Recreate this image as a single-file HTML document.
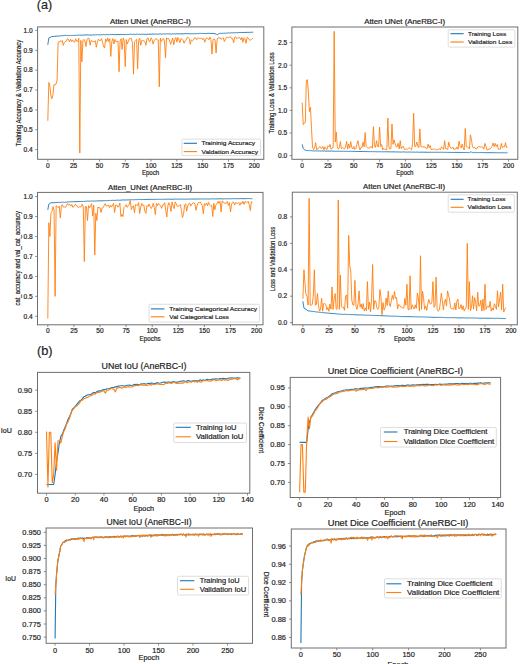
<!DOCTYPE html>
<html><head><meta charset="utf-8"><style>
html,body{margin:0;padding:0;background:#fff;width:520px;height:664px;overflow:hidden}
svg{display:block}
text{font-family:"Liberation Sans",sans-serif;stroke:#222;stroke-width:0.18px}
</style></head><body>
<svg width="520" height="664" viewBox="0 0 520 664">
<rect width="520" height="664" fill="#fff"/>
<text x="36.80" y="9.30" font-size="12.6" textLength="15.40" lengthAdjust="spacingAndGlyphs" fill="#222">(a)</text>
<text x="110.00" y="23.70" font-size="6.5" textLength="80.80" lengthAdjust="spacingAndGlyphs" fill="#222">Atten UNet (AneRBC-I)</text>
<text transform="translate(21.04,93.05) rotate(-90)" x="-53.25" y="0" font-size="6.8" textLength="106.50" lengthAdjust="spacingAndGlyphs" fill="#222">Training Accuracy &amp; Validation Accuracy</text>
<text x="141.90" y="175.00" font-size="6.4" textLength="17.30" lengthAdjust="spacingAndGlyphs" fill="#222">Epoch</text>
<line x1="35.30" y1="149.60" x2="37.60" y2="149.60" stroke="#6e6e6e" stroke-width="0.8"/>
<text x="23.54" y="151.90" font-size="6.4" textLength="9.16" lengthAdjust="spacingAndGlyphs" fill="#222">0.4</text>
<line x1="35.30" y1="129.73" x2="37.60" y2="129.73" stroke="#6e6e6e" stroke-width="0.8"/>
<text x="23.54" y="132.04" font-size="6.4" textLength="9.16" lengthAdjust="spacingAndGlyphs" fill="#222">0.5</text>
<line x1="35.30" y1="109.87" x2="37.60" y2="109.87" stroke="#6e6e6e" stroke-width="0.8"/>
<text x="23.54" y="112.17" font-size="6.4" textLength="9.16" lengthAdjust="spacingAndGlyphs" fill="#222">0.6</text>
<line x1="35.30" y1="90.00" x2="37.60" y2="90.00" stroke="#6e6e6e" stroke-width="0.8"/>
<text x="23.54" y="92.30" font-size="6.4" textLength="9.16" lengthAdjust="spacingAndGlyphs" fill="#222">0.7</text>
<line x1="35.30" y1="70.13" x2="37.60" y2="70.13" stroke="#6e6e6e" stroke-width="0.8"/>
<text x="23.54" y="72.44" font-size="6.4" textLength="9.16" lengthAdjust="spacingAndGlyphs" fill="#222">0.8</text>
<line x1="35.30" y1="50.27" x2="37.60" y2="50.27" stroke="#6e6e6e" stroke-width="0.8"/>
<text x="23.54" y="52.57" font-size="6.4" textLength="9.16" lengthAdjust="spacingAndGlyphs" fill="#222">0.9</text>
<line x1="35.30" y1="30.40" x2="37.60" y2="30.40" stroke="#6e6e6e" stroke-width="0.8"/>
<text x="23.54" y="32.70" font-size="6.4" textLength="9.16" lengthAdjust="spacingAndGlyphs" fill="#222">1.0</text>
<line x1="47.80" y1="159.30" x2="47.80" y2="161.60" stroke="#6e6e6e" stroke-width="0.8"/>
<text x="45.97" y="167.80" font-size="6.4" textLength="3.67" lengthAdjust="spacingAndGlyphs" fill="#222">0</text>
<line x1="73.61" y1="159.30" x2="73.61" y2="161.60" stroke="#6e6e6e" stroke-width="0.8"/>
<text x="69.95" y="167.80" font-size="6.4" textLength="7.33" lengthAdjust="spacingAndGlyphs" fill="#222">25</text>
<line x1="99.42" y1="159.30" x2="99.42" y2="161.60" stroke="#6e6e6e" stroke-width="0.8"/>
<text x="95.76" y="167.80" font-size="6.4" textLength="7.33" lengthAdjust="spacingAndGlyphs" fill="#222">50</text>
<line x1="125.24" y1="159.30" x2="125.24" y2="161.60" stroke="#6e6e6e" stroke-width="0.8"/>
<text x="121.57" y="167.80" font-size="6.4" textLength="7.33" lengthAdjust="spacingAndGlyphs" fill="#222">75</text>
<line x1="151.05" y1="159.30" x2="151.05" y2="161.60" stroke="#6e6e6e" stroke-width="0.8"/>
<text x="145.55" y="167.80" font-size="6.4" textLength="11.00" lengthAdjust="spacingAndGlyphs" fill="#222">100</text>
<line x1="176.86" y1="159.30" x2="176.86" y2="161.60" stroke="#6e6e6e" stroke-width="0.8"/>
<text x="171.36" y="167.80" font-size="6.4" textLength="11.00" lengthAdjust="spacingAndGlyphs" fill="#222">125</text>
<line x1="202.68" y1="159.30" x2="202.68" y2="161.60" stroke="#6e6e6e" stroke-width="0.8"/>
<text x="197.18" y="167.80" font-size="6.4" textLength="11.00" lengthAdjust="spacingAndGlyphs" fill="#222">150</text>
<line x1="228.49" y1="159.30" x2="228.49" y2="161.60" stroke="#6e6e6e" stroke-width="0.8"/>
<text x="222.99" y="167.80" font-size="6.4" textLength="11.00" lengthAdjust="spacingAndGlyphs" fill="#222">175</text>
<line x1="254.30" y1="159.30" x2="254.30" y2="161.60" stroke="#6e6e6e" stroke-width="0.8"/>
<text x="248.80" y="167.80" font-size="6.4" textLength="11.00" lengthAdjust="spacingAndGlyphs" fill="#222">200</text>
<polyline points="47.80,44.82 48.83,37.93 49.86,37.35 50.90,37.03 51.93,36.56 52.96,36.44 53.99,36.48 55.03,36.28 56.06,36.16 57.09,36.01 58.12,36.15 59.16,35.99 60.19,35.97 61.22,35.65 62.25,35.59 63.29,35.71 64.32,35.39 65.35,35.37 66.38,35.44 67.42,35.43 68.45,35.55 69.48,35.57 70.52,35.38 71.55,35.51 72.58,35.44 73.61,35.40 74.64,35.44 75.68,35.28 76.71,35.26 77.74,35.11 78.78,35.19 79.81,35.12 80.84,35.15 81.87,35.08 82.91,35.12 83.94,35.16 84.97,34.91 86.00,34.89 87.03,34.92 88.07,34.94 89.10,35.04 90.13,35.05 91.16,35.01 92.20,35.06 93.23,34.82 94.26,34.91 95.29,34.75 96.33,34.88 97.36,34.67 98.39,34.69 99.42,34.94 100.46,34.85 101.49,34.61 102.52,34.73 103.56,34.54 104.59,34.71 105.62,34.79 106.65,34.59 107.69,34.52 108.72,34.67 109.75,34.70 110.78,34.62 111.81,34.40 112.85,34.46 113.88,34.65 114.91,34.60 115.94,34.64 116.98,34.64 118.01,34.40 119.04,34.59 120.08,34.45 121.11,34.48 122.14,34.55 123.17,34.37 124.20,34.55 125.24,34.38 126.27,34.53 127.30,34.43 128.33,34.48 129.37,34.46 130.40,34.22 131.43,34.27 132.47,34.42 133.50,34.22 134.53,34.43 135.56,34.36 136.59,34.20 137.63,34.26 138.66,34.42 139.69,34.13 140.72,34.37 141.76,34.34 142.79,34.17 143.82,34.30 144.86,34.30 145.89,34.36 146.92,34.34 147.95,34.18 148.99,34.28 150.02,34.15 151.05,34.22 152.08,34.18 153.12,34.00 154.15,34.14 155.18,34.10 156.21,33.99 157.25,34.20 158.28,34.19 159.31,33.94 160.34,33.95 161.38,34.12 162.41,34.13 163.44,33.94 164.47,33.86 165.50,34.09 166.54,33.83 167.57,33.84 168.60,33.92 169.63,33.96 170.67,34.05 171.70,34.06 172.73,33.75 173.76,33.97 174.80,33.81 175.83,33.93 176.86,33.74 177.89,33.80 178.93,33.88 179.96,33.91 180.99,33.72 182.02,33.91 183.06,33.85 184.09,33.73 185.12,33.63 186.15,33.69 187.19,33.78 188.22,33.57 189.25,33.78 190.29,33.83 191.32,33.73 192.35,33.66 193.38,33.77 194.42,33.72 195.45,33.65 196.48,33.57 197.51,33.70 198.55,33.61 199.58,33.43 200.61,33.39 201.64,33.48 202.68,33.45 203.71,33.47 204.74,33.60 205.77,33.62 206.81,33.61 207.84,33.32 208.87,33.37 209.90,33.27 210.94,33.56 211.97,33.35 213.00,33.39 214.03,33.51 215.06,33.83 216.10,33.82 217.13,34.91 218.16,34.16 219.19,33.50 220.23,33.39 221.26,33.39 222.29,33.34 223.32,33.26 224.36,33.16 225.39,33.29 226.42,33.12 227.45,33.00 228.49,32.95 229.52,33.04 230.55,32.86 231.58,32.78 232.62,32.82 233.65,32.74 234.68,32.79 235.71,32.69 236.75,32.66 237.78,32.79 238.81,32.58 239.84,32.44 240.88,32.44 241.91,32.46 242.94,32.54 243.98,32.40 245.01,32.41 246.04,32.43 247.07,32.27 248.11,32.48 249.14,32.23 250.17,32.43 251.20,32.22 252.24,32.23 253.27,32.27" fill="none" stroke="#1f77b4" stroke-width="0.9" stroke-linejoin="round" stroke-opacity="1.0"/>
<polyline points="47.80,120.79 48.83,82.45 49.86,86.03 50.90,95.96 51.93,98.74 52.96,94.97 53.99,84.64 55.03,85.03 56.06,84.04 57.09,80.07 58.12,42.32 59.16,42.24 60.19,40.79 61.22,41.65 62.25,40.44 63.29,45.34 64.32,42.49 65.35,41.65 66.38,41.37 67.42,38.81 68.45,39.38 69.48,41.76 70.52,39.19 71.55,41.78 72.58,39.85 73.61,41.77 74.64,42.23 75.68,38.75 76.71,41.35 77.74,41.29 78.78,38.22 79.81,152.98 80.84,40.33 81.87,61.79 82.91,40.33 83.94,39.36 84.97,41.23 86.00,46.49 87.03,39.27 88.07,38.16 89.10,38.44 90.13,45.20 91.16,40.53 92.20,41.29 93.23,41.36 94.26,41.66 95.29,40.71 96.33,47.29 97.36,41.87 98.39,39.18 99.42,40.51 100.46,40.61 101.49,38.58 102.52,42.39 103.56,46.10 104.59,48.08 105.62,38.98 106.65,41.54 107.69,37.88 108.72,41.65 109.75,38.74 110.78,56.43 111.81,41.65 112.85,38.59 113.88,43.98 114.91,39.43 115.94,41.69 116.98,41.54 118.01,41.01 119.04,71.72 120.08,40.94 121.11,38.72 122.14,49.47 123.17,37.98 124.20,40.36 125.24,66.56 126.27,39.64 127.30,44.00 128.33,41.29 129.37,38.75 130.40,38.56 131.43,38.31 132.47,43.72 133.50,74.11 134.53,41.36 135.56,40.37 136.59,39.30 137.63,68.74 138.66,40.37 139.69,38.05 140.72,45.30 141.76,40.48 142.79,40.47 143.82,41.02 144.86,41.41 145.89,45.30 146.92,38.99 147.95,37.76 148.99,41.08 150.02,41.53 151.05,37.80 152.08,39.59 153.12,44.14 154.15,40.74 155.18,39.31 156.21,38.37 157.25,39.83 158.28,39.96 159.31,86.82 160.34,37.96 161.38,41.46 162.41,39.62 163.44,38.23 164.47,41.03 165.50,57.82 166.54,37.75 167.57,39.01 168.60,38.37 169.63,41.06 170.67,44.31 171.70,40.87 172.73,38.09 173.76,44.82 174.80,39.62 175.83,37.44 176.86,42.15 177.89,37.50 178.93,39.56 179.96,42.73 180.99,38.44 182.02,39.42 183.06,40.16 184.09,43.31 185.12,40.70 186.15,39.78 187.19,37.33 188.22,37.43 189.25,38.74 190.29,44.31 191.32,39.86 192.35,40.84 193.38,40.10 194.42,38.06 195.45,37.71 196.48,39.71 197.51,38.00 198.55,38.04 199.58,38.34 200.61,38.45 201.64,38.06 202.68,39.62 203.71,38.25 204.74,42.32 205.77,39.09 206.81,37.95 207.84,38.25 208.87,39.81 209.90,37.21 210.94,39.34 211.97,54.04 213.00,40.33 214.03,38.74 215.06,39.90 216.10,53.05 217.13,39.03 218.16,37.61 219.19,38.27 220.23,37.65 221.26,39.42 222.29,38.23 223.32,37.84 224.36,41.53 225.39,39.36 226.42,37.38 227.45,37.26 228.49,37.97 229.52,36.81 230.55,36.87 231.58,38.60 232.62,38.54 233.65,42.84 234.68,37.28 235.71,36.87 236.75,38.68 237.78,37.82 238.81,37.69 239.84,37.63 240.88,39.83 241.91,37.40 242.94,42.31 243.98,37.83 245.01,38.78 246.04,43.31 247.07,37.35 248.11,37.88 249.14,39.67 250.17,40.27 251.20,39.73 252.24,38.60 253.27,37.75" fill="none" stroke="#ff7f0e" stroke-width="0.9" stroke-linejoin="round" stroke-opacity="1.0"/>
<rect x="37.60" y="26.90" width="226.20" height="132.40" fill="none" stroke="#6e6e6e" stroke-width="1.0"/>
<rect x="181.90" y="139.10" width="78.60" height="16.50" rx="1.2" fill="#fff" fill-opacity="0.85" stroke="#d6d6d6" stroke-width="0.8"/>
<line x1="183.70" y1="143.30" x2="197.00" y2="143.30" stroke="#1f77b4" stroke-width="1.1"/>
<text x="201.40" y="145.31" font-size="6.1" textLength="53.60" lengthAdjust="spacingAndGlyphs" fill="#222">Traininig Accuracy</text>
<line x1="183.70" y1="151.60" x2="197.00" y2="151.60" stroke="#ff7f0e" stroke-width="1.1"/>
<text x="201.40" y="153.61" font-size="6.1" textLength="56.70" lengthAdjust="spacingAndGlyphs" fill="#222">Valdation Accuracy</text>
<text x="364.20" y="23.70" font-size="6.5" textLength="80.90" lengthAdjust="spacingAndGlyphs" fill="#222">Atten UNet (AneRBC-I)</text>
<text transform="translate(274.24,93.00) rotate(-90)" x="-40.60" y="0" font-size="6.8" textLength="81.20" lengthAdjust="spacingAndGlyphs" fill="#222">Training Loss &amp; Validation Loss</text>
<text x="396.20" y="175.30" font-size="6.4" textLength="17.30" lengthAdjust="spacingAndGlyphs" fill="#222">Epoch</text>
<line x1="289.60" y1="155.60" x2="291.90" y2="155.60" stroke="#6e6e6e" stroke-width="0.8"/>
<text x="278.14" y="157.90" font-size="6.4" textLength="9.16" lengthAdjust="spacingAndGlyphs" fill="#222">0.0</text>
<line x1="289.60" y1="133.00" x2="291.90" y2="133.00" stroke="#6e6e6e" stroke-width="0.8"/>
<text x="278.14" y="135.30" font-size="6.4" textLength="9.16" lengthAdjust="spacingAndGlyphs" fill="#222">0.5</text>
<line x1="289.60" y1="110.40" x2="291.90" y2="110.40" stroke="#6e6e6e" stroke-width="0.8"/>
<text x="278.14" y="112.70" font-size="6.4" textLength="9.16" lengthAdjust="spacingAndGlyphs" fill="#222">1.0</text>
<line x1="289.60" y1="87.80" x2="291.90" y2="87.80" stroke="#6e6e6e" stroke-width="0.8"/>
<text x="278.14" y="90.10" font-size="6.4" textLength="9.16" lengthAdjust="spacingAndGlyphs" fill="#222">1.5</text>
<line x1="289.60" y1="65.20" x2="291.90" y2="65.20" stroke="#6e6e6e" stroke-width="0.8"/>
<text x="278.14" y="67.50" font-size="6.4" textLength="9.16" lengthAdjust="spacingAndGlyphs" fill="#222">2.0</text>
<line x1="289.60" y1="42.60" x2="291.90" y2="42.60" stroke="#6e6e6e" stroke-width="0.8"/>
<text x="278.14" y="44.90" font-size="6.4" textLength="9.16" lengthAdjust="spacingAndGlyphs" fill="#222">2.5</text>
<line x1="302.20" y1="159.30" x2="302.20" y2="161.60" stroke="#6e6e6e" stroke-width="0.8"/>
<text x="300.37" y="167.90" font-size="6.4" textLength="3.67" lengthAdjust="spacingAndGlyphs" fill="#222">0</text>
<line x1="328.00" y1="159.30" x2="328.00" y2="161.60" stroke="#6e6e6e" stroke-width="0.8"/>
<text x="324.33" y="167.90" font-size="6.4" textLength="7.33" lengthAdjust="spacingAndGlyphs" fill="#222">25</text>
<line x1="353.80" y1="159.30" x2="353.80" y2="161.60" stroke="#6e6e6e" stroke-width="0.8"/>
<text x="350.13" y="167.90" font-size="6.4" textLength="7.33" lengthAdjust="spacingAndGlyphs" fill="#222">50</text>
<line x1="379.60" y1="159.30" x2="379.60" y2="161.60" stroke="#6e6e6e" stroke-width="0.8"/>
<text x="375.93" y="167.90" font-size="6.4" textLength="7.33" lengthAdjust="spacingAndGlyphs" fill="#222">75</text>
<line x1="405.40" y1="159.30" x2="405.40" y2="161.60" stroke="#6e6e6e" stroke-width="0.8"/>
<text x="399.90" y="167.90" font-size="6.4" textLength="11.00" lengthAdjust="spacingAndGlyphs" fill="#222">100</text>
<line x1="431.20" y1="159.30" x2="431.20" y2="161.60" stroke="#6e6e6e" stroke-width="0.8"/>
<text x="425.70" y="167.90" font-size="6.4" textLength="11.00" lengthAdjust="spacingAndGlyphs" fill="#222">125</text>
<line x1="457.00" y1="159.30" x2="457.00" y2="161.60" stroke="#6e6e6e" stroke-width="0.8"/>
<text x="451.50" y="167.90" font-size="6.4" textLength="11.00" lengthAdjust="spacingAndGlyphs" fill="#222">150</text>
<line x1="482.80" y1="159.30" x2="482.80" y2="161.60" stroke="#6e6e6e" stroke-width="0.8"/>
<text x="477.30" y="167.90" font-size="6.4" textLength="11.00" lengthAdjust="spacingAndGlyphs" fill="#222">175</text>
<line x1="508.60" y1="159.30" x2="508.60" y2="161.60" stroke="#6e6e6e" stroke-width="0.8"/>
<text x="503.10" y="167.90" font-size="6.4" textLength="11.00" lengthAdjust="spacingAndGlyphs" fill="#222">200</text>
<polyline points="302.20,144.30 303.23,148.34 304.26,149.69 305.30,150.13 306.33,150.49 307.36,150.50 308.39,150.59 309.42,150.57 310.46,150.67 311.49,150.76 312.52,150.84 313.55,150.84 314.58,150.95 315.62,150.91 316.65,150.98 317.68,150.86 318.71,151.03 319.74,150.91 320.78,151.06 321.81,150.96 322.84,151.04 323.87,151.05 324.90,150.98 325.94,151.15 326.97,151.15 328.00,151.02 329.03,151.11 330.06,151.20 331.10,151.05 332.13,151.07 333.16,151.24 334.19,151.20 335.22,151.26 336.26,151.24 337.29,151.20 338.32,151.29 339.35,151.21 340.38,151.34 341.42,151.33 342.45,151.22 343.48,151.31 344.51,151.32 345.54,151.30 346.58,151.33 347.61,151.36 348.64,151.44 349.67,151.32 350.70,151.29 351.74,151.30 352.77,151.37 353.80,151.44 354.83,151.45 355.86,151.40 356.90,151.42 357.93,151.53 358.96,151.52 359.99,151.51 361.02,151.49 362.06,151.45 363.09,151.52 364.12,151.62 365.15,151.49 366.18,151.57 367.22,151.57 368.25,151.63 369.28,151.61 370.31,151.63 371.34,151.57 372.38,151.71 373.41,151.64 374.44,151.72 375.47,151.64 376.50,151.77 377.54,151.74 378.57,151.74 379.60,151.70 380.63,151.82 381.66,151.75 382.70,151.81 383.73,151.81 384.76,151.79 385.79,151.71 386.82,151.81 387.86,151.74 388.89,151.90 389.92,151.77 390.95,151.89 391.98,151.93 393.02,151.84 394.05,151.82 395.08,152.00 396.11,151.97 397.14,151.89 398.18,151.98 399.21,152.01 400.24,152.06 401.27,152.07 402.30,151.98 403.34,151.93 404.37,151.94 405.40,152.04 406.43,152.14 407.46,152.10 408.50,152.02 409.53,152.03 410.56,152.08 411.59,152.16 412.62,152.12 413.66,152.14 414.69,152.13 415.72,152.21 416.75,152.09 417.78,152.11 418.82,152.25 419.85,152.23 420.88,152.13 421.91,152.25 422.94,152.14 423.98,152.22 425.01,152.19 426.04,152.20 427.07,152.30 428.10,152.29 429.14,152.30 430.17,152.23 431.20,152.24 432.23,152.35 433.26,152.22 434.30,152.31 435.33,152.35 436.36,152.32 437.39,152.23 438.42,152.31 439.46,152.31 440.49,152.26 441.52,152.26 442.55,152.31 443.58,152.37 444.62,152.35 445.65,152.30 446.68,152.33 447.71,152.37 448.74,152.42 449.78,152.43 450.81,152.37 451.84,152.41 452.87,152.51 453.90,152.39 454.94,152.37 455.97,152.39 457.00,152.38 458.03,152.39 459.06,152.46 460.10,152.42 461.13,152.50 462.16,152.56 463.19,152.52 464.22,152.54 465.26,152.43 466.29,152.48 467.32,152.52 468.35,152.55 469.38,152.68 470.42,151.89 471.45,152.17 472.48,152.55 473.51,152.58 474.54,152.56 475.58,152.58 476.61,152.52 477.64,152.63 478.67,152.65 479.70,152.62 480.74,152.55 481.77,152.55 482.80,152.58 483.83,152.54 484.86,152.65 485.90,152.72 486.93,152.64 487.96,152.66 488.99,152.71 490.02,152.63 491.06,152.70 492.09,152.73 493.12,152.72 494.15,152.61 495.18,152.79 496.22,152.74 497.25,152.76 498.28,152.78 499.31,152.75 500.34,152.79 501.38,152.67 502.41,152.76 503.44,152.73 504.47,152.83 505.50,152.79 506.54,152.77 507.57,152.74" fill="none" stroke="#1f77b4" stroke-width="0.9" stroke-linejoin="round" stroke-opacity="1.0"/>
<polyline points="302.20,102.72 303.23,124.64 304.26,123.06 305.30,122.60 306.33,80.57 307.36,79.66 308.39,92.32 309.42,111.53 310.46,107.24 311.49,128.48 312.52,147.01 313.55,149.62 314.58,148.41 315.62,142.60 316.65,149.50 317.68,149.14 318.71,147.68 319.74,146.52 320.78,147.86 321.81,148.52 322.84,146.42 323.87,149.78 324.90,146.85 325.94,148.90 326.97,149.43 328.00,145.78 329.03,146.90 330.06,144.36 331.10,149.30 332.13,147.85 333.16,147.64 334.19,31.30 335.22,142.04 336.26,132.10 337.29,146.56 338.32,149.21 339.35,147.49 340.38,141.59 341.42,148.81 342.45,147.83 343.48,148.31 344.51,148.87 345.54,147.08 346.58,141.41 347.61,149.07 348.64,143.90 349.67,148.05 350.70,141.59 351.74,147.31 352.77,148.91 353.80,146.41 354.83,149.52 355.86,148.44 356.90,144.30 357.93,140.68 358.96,146.56 359.99,149.81 361.02,147.53 362.06,147.19 363.09,142.10 364.12,146.78 365.15,132.55 366.18,146.56 367.22,147.80 368.25,147.85 369.28,148.30 370.31,146.91 371.34,146.53 372.38,148.24 373.41,126.67 374.44,146.56 375.47,147.41 376.50,140.68 377.54,146.36 378.57,146.98 379.60,127.12 380.63,146.56 381.66,144.51 382.70,149.87 383.73,148.28 384.76,149.34 385.79,149.53 386.82,149.74 387.86,118.08 388.89,146.56 389.92,149.05 390.95,148.54 391.98,123.96 393.02,144.30 394.05,139.78 395.08,143.84 396.11,146.76 397.14,146.99 398.18,143.25 399.21,148.94 400.24,140.68 401.27,148.65 402.30,146.75 403.34,146.49 404.37,149.40 405.40,149.31 406.43,149.11 407.46,149.11 408.50,148.20 409.53,147.82 410.56,149.00 411.59,149.94 412.62,143.20 413.66,113.34 414.69,146.56 415.72,146.50 416.75,142.05 417.78,146.01 418.82,147.72 419.85,128.93 420.88,146.56 421.91,146.70 422.94,147.13 423.98,146.79 425.01,147.06 426.04,148.53 427.07,148.51 428.10,144.07 429.14,147.66 430.17,145.44 431.20,149.71 432.23,149.20 433.26,149.36 434.30,148.72 435.33,149.76 436.36,149.95 437.39,149.40 438.42,149.58 439.46,148.64 440.49,149.86 441.52,146.79 442.55,147.73 443.58,149.41 444.62,140.68 445.65,148.69 446.68,148.63 447.71,149.51 448.74,142.11 449.78,146.36 450.81,148.26 451.84,148.20 452.87,146.92 453.90,149.58 454.94,148.71 455.97,148.99 457.00,146.95 458.03,149.37 459.06,141.14 460.10,146.51 461.13,148.04 462.16,143.96 463.19,147.99 464.22,149.85 465.26,128.48 466.29,146.56 467.32,146.83 468.35,147.43 469.38,149.01 470.42,134.81 471.45,139.78 472.48,146.56 473.51,148.02 474.54,147.13 475.58,148.76 476.61,149.14 477.64,147.02 478.67,146.39 479.70,146.87 480.74,147.04 481.77,146.99 482.80,147.27 483.83,149.13 484.86,143.40 485.90,146.06 486.93,149.85 487.96,149.85 488.99,148.94 490.02,149.01 491.06,147.45 492.09,146.49 493.12,143.03 494.15,146.56 495.18,143.40 496.22,146.50 497.25,144.50 498.28,149.15 499.31,149.13 500.34,149.24 501.38,143.40 502.41,147.69 503.44,146.69 504.47,146.91 505.50,142.70 506.54,147.59 507.57,147.06" fill="none" stroke="#ff7f0e" stroke-width="0.9" stroke-linejoin="round" stroke-opacity="1.0"/>
<rect x="291.90" y="27.00" width="225.90" height="132.30" fill="none" stroke="#6e6e6e" stroke-width="1.0"/>
<rect x="448.20" y="29.80" width="66.60" height="17.30" rx="1.2" fill="#fff" fill-opacity="0.85" stroke="#d6d6d6" stroke-width="0.8"/>
<line x1="450.40" y1="33.70" x2="463.70" y2="33.70" stroke="#1f77b4" stroke-width="1.1"/>
<text x="468.00" y="35.71" font-size="6.1" textLength="38.10" lengthAdjust="spacingAndGlyphs" fill="#222">Training Loss</text>
<line x1="450.40" y1="42.00" x2="463.70" y2="42.00" stroke="#ff7f0e" stroke-width="1.1"/>
<text x="468.00" y="44.01" font-size="6.1" textLength="44.20" lengthAdjust="spacingAndGlyphs" fill="#222">Validation Loss</text>
<text x="108.00" y="189.60" font-size="6.5" textLength="84.10" lengthAdjust="spacingAndGlyphs" fill="#222">Atten_UNet (AneRBC-II)</text>
<text transform="translate(20.34,258.35) rotate(-90)" x="-47.25" y="0" font-size="6.8" textLength="94.50" lengthAdjust="spacingAndGlyphs" fill="#222">cat_accuracy and val_cat_accuracy</text>
<text x="139.60" y="340.80" font-size="6.4" textLength="21.00" lengthAdjust="spacingAndGlyphs" fill="#222">Epochs</text>
<line x1="35.20" y1="316.30" x2="37.50" y2="316.30" stroke="#6e6e6e" stroke-width="0.8"/>
<text x="23.54" y="318.60" font-size="6.4" textLength="9.16" lengthAdjust="spacingAndGlyphs" fill="#222">0.4</text>
<line x1="35.20" y1="296.35" x2="37.50" y2="296.35" stroke="#6e6e6e" stroke-width="0.8"/>
<text x="23.54" y="298.65" font-size="6.4" textLength="9.16" lengthAdjust="spacingAndGlyphs" fill="#222">0.5</text>
<line x1="35.20" y1="276.40" x2="37.50" y2="276.40" stroke="#6e6e6e" stroke-width="0.8"/>
<text x="23.54" y="278.70" font-size="6.4" textLength="9.16" lengthAdjust="spacingAndGlyphs" fill="#222">0.6</text>
<line x1="35.20" y1="256.45" x2="37.50" y2="256.45" stroke="#6e6e6e" stroke-width="0.8"/>
<text x="23.54" y="258.75" font-size="6.4" textLength="9.16" lengthAdjust="spacingAndGlyphs" fill="#222">0.7</text>
<line x1="35.20" y1="236.50" x2="37.50" y2="236.50" stroke="#6e6e6e" stroke-width="0.8"/>
<text x="23.54" y="238.80" font-size="6.4" textLength="9.16" lengthAdjust="spacingAndGlyphs" fill="#222">0.8</text>
<line x1="35.20" y1="216.55" x2="37.50" y2="216.55" stroke="#6e6e6e" stroke-width="0.8"/>
<text x="23.54" y="218.85" font-size="6.4" textLength="9.16" lengthAdjust="spacingAndGlyphs" fill="#222">0.9</text>
<line x1="35.20" y1="196.60" x2="37.50" y2="196.60" stroke="#6e6e6e" stroke-width="0.8"/>
<text x="23.54" y="198.90" font-size="6.4" textLength="9.16" lengthAdjust="spacingAndGlyphs" fill="#222">1.0</text>
<line x1="47.80" y1="324.80" x2="47.80" y2="327.10" stroke="#6e6e6e" stroke-width="0.8"/>
<text x="45.97" y="333.40" font-size="6.4" textLength="3.67" lengthAdjust="spacingAndGlyphs" fill="#222">0</text>
<line x1="73.90" y1="324.80" x2="73.90" y2="327.10" stroke="#6e6e6e" stroke-width="0.8"/>
<text x="70.23" y="333.40" font-size="6.4" textLength="7.33" lengthAdjust="spacingAndGlyphs" fill="#222">25</text>
<line x1="100.00" y1="324.80" x2="100.00" y2="327.10" stroke="#6e6e6e" stroke-width="0.8"/>
<text x="96.33" y="333.40" font-size="6.4" textLength="7.33" lengthAdjust="spacingAndGlyphs" fill="#222">50</text>
<line x1="126.10" y1="324.80" x2="126.10" y2="327.10" stroke="#6e6e6e" stroke-width="0.8"/>
<text x="122.43" y="333.40" font-size="6.4" textLength="7.33" lengthAdjust="spacingAndGlyphs" fill="#222">75</text>
<line x1="152.20" y1="324.80" x2="152.20" y2="327.10" stroke="#6e6e6e" stroke-width="0.8"/>
<text x="146.70" y="333.40" font-size="6.4" textLength="11.00" lengthAdjust="spacingAndGlyphs" fill="#222">100</text>
<line x1="178.30" y1="324.80" x2="178.30" y2="327.10" stroke="#6e6e6e" stroke-width="0.8"/>
<text x="172.80" y="333.40" font-size="6.4" textLength="11.00" lengthAdjust="spacingAndGlyphs" fill="#222">125</text>
<line x1="204.40" y1="324.80" x2="204.40" y2="327.10" stroke="#6e6e6e" stroke-width="0.8"/>
<text x="198.90" y="333.40" font-size="6.4" textLength="11.00" lengthAdjust="spacingAndGlyphs" fill="#222">150</text>
<line x1="230.50" y1="324.80" x2="230.50" y2="327.10" stroke="#6e6e6e" stroke-width="0.8"/>
<text x="225.00" y="333.40" font-size="6.4" textLength="11.00" lengthAdjust="spacingAndGlyphs" fill="#222">175</text>
<line x1="256.60" y1="324.80" x2="256.60" y2="327.10" stroke="#6e6e6e" stroke-width="0.8"/>
<text x="251.10" y="333.40" font-size="6.4" textLength="11.00" lengthAdjust="spacingAndGlyphs" fill="#222">200</text>
<polyline points="47.80,209.82 48.84,204.14 49.89,203.44 50.93,202.70 51.98,202.81 53.02,202.76 54.06,202.73 55.11,202.66 56.15,202.50 57.20,202.59 58.24,202.45 59.28,202.48 60.33,202.41 61.37,202.34 62.42,202.19 63.46,202.20 64.50,202.30 65.55,202.19 66.59,202.17 67.64,201.95 68.68,201.92 69.72,201.87 70.77,201.82 71.81,201.79 72.86,201.70 73.90,201.69 74.94,201.77 75.99,201.58 77.03,201.62 78.08,201.51 79.12,201.51 80.16,201.50 81.21,201.47 82.25,201.40 83.30,201.40 84.34,201.41 85.38,201.21 86.43,201.18 87.47,201.10 88.52,201.14 89.56,201.14 90.60,201.06 91.65,201.17 92.69,201.01 93.74,201.03 94.78,201.06 95.82,201.02 96.87,200.91 97.91,200.94 98.96,200.86 100.00,200.79 101.04,200.80 102.09,200.83 103.13,200.71 104.18,200.74 105.22,200.71 106.26,200.68 107.31,200.61 108.35,200.64 109.40,200.47 110.44,200.37 111.48,200.47 112.53,200.36 113.57,200.27 114.62,200.45 115.66,200.39 116.70,200.20 117.75,200.16 118.79,200.17 119.84,200.25 120.88,200.16 121.92,200.01 122.97,199.98 124.01,199.96 125.06,200.07 126.10,199.88 127.14,199.96 128.19,199.85 129.23,199.95 130.28,199.72 131.32,199.77 132.36,199.71 133.41,199.80 134.45,199.67 135.50,199.64 136.54,199.61 137.58,199.63 138.63,199.51 139.67,199.57 140.72,199.54 141.76,199.54 142.80,199.38 143.85,199.49 144.89,199.45 145.94,199.48 146.98,199.34 148.02,199.35 149.07,199.34 150.11,199.46 151.16,199.35 152.20,199.37 153.24,199.42 154.29,199.44 155.33,199.19 156.38,199.39 157.42,199.34 158.46,199.34 159.51,199.25 160.55,199.37 161.60,199.27 162.64,199.29 163.68,199.17 164.73,199.36 165.77,199.27 166.82,199.23 167.86,199.10 168.90,199.20 169.95,199.21 170.99,199.15 172.04,199.23 173.08,199.29 174.12,199.17 175.17,199.06 176.21,199.10 177.26,199.21 178.30,199.10 179.34,199.05 180.39,199.18 181.43,199.10 182.48,199.14 183.52,199.16 184.56,199.14 185.61,199.16 186.65,199.11 187.70,199.18 188.74,199.09 189.78,199.15 190.83,198.99 191.87,199.02 192.92,199.15 193.96,198.96 195.00,199.09 196.05,199.01 197.09,198.99 198.14,199.03 199.18,199.04 200.22,198.99 201.27,199.06 202.31,198.88 203.36,199.05 204.40,198.87 205.44,199.01 206.49,198.98 207.53,198.95 208.58,199.03 209.62,199.00 210.66,198.94 211.71,198.91 212.75,198.80 213.80,198.76 214.84,198.98 215.88,198.86 216.93,198.94 217.97,198.78 219.02,198.88 220.06,198.74 221.10,198.81 222.15,198.91 223.19,198.93 224.24,198.86 225.28,198.71 226.32,198.87 227.37,198.78 228.41,198.80 229.46,198.80 230.50,198.68 231.54,198.82 232.59,198.69 233.63,198.69 234.68,198.62 235.72,198.71 236.76,198.61 237.81,198.72 238.85,198.68 239.90,198.66 240.94,198.60 241.98,198.58 243.03,198.76 244.07,198.74 245.12,198.64 246.16,198.57 247.20,198.63 248.25,198.67 249.29,198.51 250.34,198.66 251.38,198.70 252.42,198.70" fill="none" stroke="#1f77b4" stroke-width="0.9" stroke-linejoin="round" stroke-opacity="1.0"/>
<polyline points="47.80,318.49 48.84,222.73 49.89,236.50 50.93,213.16 51.98,211.56 53.02,206.58 54.06,210.56 55.11,296.35 56.15,205.58 57.20,206.58 58.24,207.78 59.28,206.16 60.33,217.95 61.37,205.81 62.42,204.50 63.46,207.22 64.50,206.83 65.55,207.44 66.59,205.55 67.64,203.55 68.68,205.14 69.72,204.26 70.77,206.13 71.81,204.40 72.86,207.48 73.90,206.58 74.94,204.74 75.99,204.50 77.03,205.95 78.08,207.55 79.12,206.69 80.16,206.97 81.21,206.63 82.25,204.10 83.30,207.02 84.34,261.64 85.38,206.58 86.43,206.58 87.47,220.54 88.52,205.62 89.56,207.86 90.60,205.94 91.65,203.63 92.69,215.96 93.74,205.11 94.78,255.05 95.82,213.16 96.87,220.54 97.91,207.00 98.96,207.93 100.00,207.57 101.04,212.52 102.09,207.89 103.13,207.57 104.18,205.59 105.22,203.56 106.26,205.96 107.31,206.07 108.35,204.91 109.40,207.52 110.44,205.20 111.48,207.12 112.53,205.01 113.57,203.31 114.62,212.56 115.66,205.19 116.70,204.92 117.75,207.08 118.79,206.49 119.84,202.98 120.88,216.55 121.92,214.29 122.97,216.55 124.01,207.57 125.06,206.49 126.10,204.67 127.14,207.37 128.19,205.80 129.23,204.29 130.28,200.59 131.32,209.70 132.36,207.03 133.41,205.76 134.45,212.78 135.50,204.58 136.54,205.19 137.58,205.40 138.63,202.58 139.67,213.48 140.72,207.16 141.76,203.40 142.80,205.62 143.85,205.10 144.89,211.50 145.94,213.44 146.98,205.54 148.02,206.65 149.07,204.03 150.11,206.53 151.16,208.55 152.20,206.85 153.24,203.22 154.29,207.60 155.33,214.56 156.38,203.51 157.42,205.70 158.46,203.34 159.51,204.82 160.55,205.74 161.60,208.35 162.64,204.89 163.68,205.01 164.73,202.66 165.77,210.66 166.82,216.95 167.86,205.91 168.90,202.67 169.95,205.45 170.99,211.47 172.04,201.99 173.08,205.81 174.12,208.61 175.17,201.89 176.21,203.69 177.26,206.52 178.30,206.27 179.34,205.54 180.39,204.66 181.43,210.43 182.48,217.55 183.52,214.17 184.56,205.79 185.61,203.75 186.65,211.22 187.70,205.99 188.74,203.73 189.78,203.04 190.83,206.04 191.87,204.18 192.92,202.96 193.96,202.65 195.00,204.46 196.05,210.32 197.09,205.45 198.14,202.82 199.18,202.53 200.22,201.99 201.27,203.83 202.31,205.70 203.36,213.86 204.40,203.61 205.44,205.30 206.49,203.09 207.53,205.69 208.58,202.34 209.62,204.99 210.66,205.98 211.71,205.18 212.75,216.55 213.80,203.32 214.84,209.82 215.88,205.13 216.93,203.64 217.97,201.40 219.02,203.35 220.06,201.39 221.10,211.93 222.15,201.10 223.19,201.59 224.24,203.22 225.28,203.30 226.32,203.22 227.37,201.42 228.41,205.45 229.46,202.67 230.50,211.99 231.54,204.27 232.59,202.22 233.63,202.23 234.68,205.17 235.72,202.29 236.76,203.46 237.81,203.26 238.85,202.55 239.90,205.32 240.94,202.67 241.98,203.76 243.03,201.32 244.07,204.40 245.12,201.55 246.16,201.98 247.20,202.47 248.25,201.25 249.29,205.26 250.34,210.56 251.38,201.59 252.42,202.59" fill="none" stroke="#ff7f0e" stroke-width="0.9" stroke-linejoin="round" stroke-opacity="1.0"/>
<rect x="37.50" y="192.40" width="225.50" height="132.40" fill="none" stroke="#6e6e6e" stroke-width="1.0"/>
<rect x="149.10" y="304.30" width="110.40" height="17.80" rx="1.2" fill="#fff" fill-opacity="0.85" stroke="#d6d6d6" stroke-width="0.8"/>
<line x1="150.80" y1="308.90" x2="164.50" y2="308.90" stroke="#1f77b4" stroke-width="1.1"/>
<text x="169.30" y="310.91" font-size="6.1" textLength="87.80" lengthAdjust="spacingAndGlyphs" fill="#222">Training Categorical Accuracy</text>
<line x1="150.80" y1="316.80" x2="164.50" y2="316.80" stroke="#ff7f0e" stroke-width="1.1"/>
<text x="169.30" y="318.81" font-size="6.1" textLength="59.60" lengthAdjust="spacingAndGlyphs" fill="#222">Val Categorical Loss</text>
<text x="363.10" y="188.90" font-size="6.5" textLength="82.00" lengthAdjust="spacingAndGlyphs" fill="#222">Atten UNet (AneRBC-II)</text>
<text transform="translate(275.24,259.10) rotate(-90)" x="-32.20" y="0" font-size="6.8" textLength="64.40" lengthAdjust="spacingAndGlyphs" fill="#222">Loss and Validation Loss</text>
<text x="393.90" y="340.80" font-size="6.4" textLength="20.90" lengthAdjust="spacingAndGlyphs" fill="#222">Epochs</text>
<line x1="290.00" y1="322.60" x2="292.30" y2="322.60" stroke="#6e6e6e" stroke-width="0.8"/>
<text x="278.14" y="324.90" font-size="6.4" textLength="9.16" lengthAdjust="spacingAndGlyphs" fill="#222">0.0</text>
<line x1="290.00" y1="296.18" x2="292.30" y2="296.18" stroke="#6e6e6e" stroke-width="0.8"/>
<text x="278.14" y="298.48" font-size="6.4" textLength="9.16" lengthAdjust="spacingAndGlyphs" fill="#222">0.2</text>
<line x1="290.00" y1="269.75" x2="292.30" y2="269.75" stroke="#6e6e6e" stroke-width="0.8"/>
<text x="278.14" y="272.05" font-size="6.4" textLength="9.16" lengthAdjust="spacingAndGlyphs" fill="#222">0.4</text>
<line x1="290.00" y1="243.33" x2="292.30" y2="243.33" stroke="#6e6e6e" stroke-width="0.8"/>
<text x="278.14" y="245.63" font-size="6.4" textLength="9.16" lengthAdjust="spacingAndGlyphs" fill="#222">0.6</text>
<line x1="290.00" y1="216.90" x2="292.30" y2="216.90" stroke="#6e6e6e" stroke-width="0.8"/>
<text x="278.14" y="219.20" font-size="6.4" textLength="9.16" lengthAdjust="spacingAndGlyphs" fill="#222">0.8</text>
<line x1="302.90" y1="324.80" x2="302.90" y2="327.10" stroke="#6e6e6e" stroke-width="0.8"/>
<text x="301.07" y="333.40" font-size="6.4" textLength="3.67" lengthAdjust="spacingAndGlyphs" fill="#222">0</text>
<line x1="328.91" y1="324.80" x2="328.91" y2="327.10" stroke="#6e6e6e" stroke-width="0.8"/>
<text x="325.25" y="333.40" font-size="6.4" textLength="7.33" lengthAdjust="spacingAndGlyphs" fill="#222">25</text>
<line x1="354.92" y1="324.80" x2="354.92" y2="327.10" stroke="#6e6e6e" stroke-width="0.8"/>
<text x="351.26" y="333.40" font-size="6.4" textLength="7.33" lengthAdjust="spacingAndGlyphs" fill="#222">50</text>
<line x1="380.94" y1="324.80" x2="380.94" y2="327.10" stroke="#6e6e6e" stroke-width="0.8"/>
<text x="377.27" y="333.40" font-size="6.4" textLength="7.33" lengthAdjust="spacingAndGlyphs" fill="#222">75</text>
<line x1="406.95" y1="324.80" x2="406.95" y2="327.10" stroke="#6e6e6e" stroke-width="0.8"/>
<text x="401.45" y="333.40" font-size="6.4" textLength="11.00" lengthAdjust="spacingAndGlyphs" fill="#222">100</text>
<line x1="432.96" y1="324.80" x2="432.96" y2="327.10" stroke="#6e6e6e" stroke-width="0.8"/>
<text x="427.46" y="333.40" font-size="6.4" textLength="11.00" lengthAdjust="spacingAndGlyphs" fill="#222">125</text>
<line x1="458.98" y1="324.80" x2="458.98" y2="327.10" stroke="#6e6e6e" stroke-width="0.8"/>
<text x="453.48" y="333.40" font-size="6.4" textLength="11.00" lengthAdjust="spacingAndGlyphs" fill="#222">150</text>
<line x1="484.99" y1="324.80" x2="484.99" y2="327.10" stroke="#6e6e6e" stroke-width="0.8"/>
<text x="479.49" y="333.40" font-size="6.4" textLength="11.00" lengthAdjust="spacingAndGlyphs" fill="#222">175</text>
<line x1="511.00" y1="324.80" x2="511.00" y2="327.10" stroke="#6e6e6e" stroke-width="0.8"/>
<text x="505.50" y="333.40" font-size="6.4" textLength="11.00" lengthAdjust="spacingAndGlyphs" fill="#222">200</text>
<polyline points="302.90,301.28 303.94,308.02 304.98,308.73 306.02,309.36 307.06,310.20 308.10,310.89 309.14,310.92 310.18,311.07 311.22,311.28 312.26,311.33 313.30,311.52 314.35,311.57 315.39,311.85 316.43,311.96 317.47,311.95 318.51,312.19 319.55,312.34 320.59,312.33 321.63,312.46 322.67,312.66 323.71,312.67 324.75,312.75 325.79,312.95 326.83,312.94 327.87,313.15 328.91,313.20 329.95,313.36 330.99,313.43 332.03,313.36 333.07,313.58 334.12,313.55 335.16,313.77 336.20,313.83 337.24,313.87 338.28,314.01 339.32,314.23 340.36,314.16 341.40,314.19 342.44,314.33 343.48,314.39 344.52,314.26 345.56,314.38 346.60,314.48 347.64,314.47 348.68,314.55 349.72,314.47 350.76,314.57 351.80,314.70 352.84,314.58 353.88,314.78 354.92,314.78 355.97,314.87 357.01,314.76 358.05,314.93 359.09,314.88 360.13,315.01 361.17,314.97 362.21,314.96 363.25,315.03 364.29,315.09 365.33,315.12 366.37,315.17 367.41,315.18 368.45,315.32 369.49,315.28 370.53,315.37 371.57,315.28 372.61,315.30 373.65,315.52 374.69,315.54 375.74,315.47 376.78,315.53 377.82,315.69 378.86,315.58 379.90,315.57 380.94,315.72 381.98,315.77 383.02,315.77 384.06,315.73 385.10,315.91 386.14,315.94 387.18,316.00 388.22,315.95 389.26,316.02 390.30,316.11 391.34,316.12 392.38,316.23 393.42,316.21 394.46,316.11 395.50,316.23 396.55,316.33 397.59,316.24 398.63,316.40 399.67,316.46 400.71,316.54 401.75,316.56 402.79,316.59 403.83,316.60 404.87,316.49 405.91,316.65 406.95,316.67 407.99,316.62 409.03,316.58 410.07,316.74 411.11,316.66 412.15,316.77 413.19,316.75 414.23,316.77 415.27,316.72 416.31,316.79 417.36,316.86 418.40,316.82 419.44,316.94 420.48,316.96 421.52,316.87 422.56,316.98 423.60,316.95 424.64,317.08 425.68,316.97 426.72,317.06 427.76,317.16 428.80,317.04 429.84,317.16 430.88,317.22 431.92,317.26 432.96,317.32 434.00,317.32 435.04,317.24 436.08,317.38 437.12,317.38 438.16,317.37 439.21,317.37 440.25,317.43 441.29,317.37 442.33,317.50 443.37,317.50 444.41,317.52 445.45,317.60 446.49,317.61 447.53,317.65 448.57,317.55 449.61,317.70 450.65,317.61 451.69,317.73 452.73,317.67 453.77,317.69 454.81,317.78 455.85,317.68 456.89,317.76 457.93,317.81 458.98,317.94 460.02,317.88 461.06,317.92 462.10,317.89 463.14,317.81 464.18,317.84 465.22,318.02 466.26,317.91 467.30,317.87 468.34,317.97 469.38,318.08 470.42,317.93 471.46,318.04 472.50,317.93 473.54,317.97 474.58,317.99 475.62,317.99 476.66,318.18 477.70,318.05 478.74,318.16 479.79,318.21 480.83,318.18 481.87,318.15 482.91,318.29 483.95,318.21 484.99,318.15 486.03,318.23 487.07,318.23 488.11,318.30 489.15,318.17 490.19,318.34 491.23,318.26 492.27,318.28 493.31,318.43 494.35,318.24 495.39,318.41 496.43,318.27 497.47,318.30 498.51,318.32 499.55,318.34 500.60,318.45 501.64,318.46 502.68,318.49 503.72,318.38 504.76,318.59 505.80,318.58" fill="none" stroke="#1f77b4" stroke-width="0.9" stroke-linejoin="round" stroke-opacity="1.0"/>
<polyline points="302.90,298.82 303.94,269.75 304.98,282.96 306.02,294.85 307.06,296.18 308.10,305.03 309.14,198.40 310.18,305.03 311.22,305.42 312.26,304.10 313.30,296.18 314.35,269.75 315.39,305.42 316.43,304.10 317.47,293.53 318.51,305.82 319.55,311.12 320.59,309.05 321.63,298.38 322.67,311.17 323.71,303.61 324.75,303.62 325.79,304.45 326.83,309.87 327.87,307.44 328.91,311.31 329.95,304.11 330.99,309.11 332.03,286.93 333.07,309.39 334.12,298.50 335.16,293.53 336.20,309.39 337.24,308.45 338.28,200.12 339.32,309.39 340.36,275.04 341.40,306.75 342.44,307.51 343.48,307.04 344.52,310.34 345.56,296.18 346.60,294.90 347.64,308.09 348.68,235.40 349.72,265.79 350.76,271.07 351.80,300.14 352.84,304.89 353.88,305.10 354.92,280.32 355.97,306.67 357.01,309.39 358.05,303.68 359.09,290.89 360.13,307.30 361.17,303.91 362.21,309.01 363.25,303.54 364.29,311.12 365.33,307.91 366.37,310.78 367.41,281.64 368.45,309.39 369.49,302.15 370.53,312.03 371.57,298.86 372.61,264.47 373.65,309.39 374.69,300.67 375.74,300.99 376.78,307.52 377.82,309.33 378.86,306.98 379.90,289.57 380.94,296.57 381.98,314.67 383.02,302.59 384.06,310.08 385.10,307.90 386.14,298.06 387.18,305.54 388.22,290.89 389.26,303.80 390.30,306.53 391.34,300.50 392.38,295.30 393.42,299.49 394.46,291.49 395.50,298.22 396.55,297.50 397.59,308.83 398.63,304.53 399.67,305.20 400.71,307.13 401.75,307.16 402.79,308.01 403.83,308.06 404.87,298.37 405.91,305.32 406.95,284.28 407.99,309.39 409.03,310.02 410.07,275.83 411.11,309.39 412.15,304.82 413.19,307.13 414.23,309.02 415.27,304.84 416.31,308.33 417.36,293.07 418.40,297.93 419.44,311.13 420.48,255.74 421.52,309.39 422.56,291.34 423.60,298.73 424.64,309.32 425.68,305.98 426.72,310.40 427.76,303.93 428.80,299.37 429.84,303.46 430.88,304.08 431.92,302.02 432.96,281.64 434.00,307.39 435.04,305.85 436.08,277.02 437.12,309.39 438.16,311.24 439.21,310.24 440.25,303.59 441.29,293.30 442.33,300.85 443.37,309.80 444.41,301.79 445.45,299.20 446.49,306.09 447.53,290.89 448.57,294.77 449.61,300.18 450.65,307.85 451.69,309.00 452.73,308.46 453.77,309.39 454.81,302.85 455.85,310.00 456.89,301.28 457.93,299.04 458.98,309.06 460.02,307.95 461.06,304.56 462.10,309.68 463.14,305.79 464.18,311.15 465.22,308.83 466.26,307.00 467.30,243.33 468.34,309.39 469.38,281.64 470.42,310.62 471.46,307.44 472.50,295.72 473.54,309.24 474.58,297.51 475.62,302.53 476.66,310.93 477.70,292.21 478.74,306.14 479.79,305.72 480.83,300.22 481.87,311.15 482.91,299.13 483.95,310.47 484.99,284.28 486.03,309.39 487.07,306.98 488.11,305.99 489.15,307.50 490.19,301.36 491.23,311.17 492.27,307.95 493.31,310.21 494.35,303.77 495.39,305.76 496.43,309.36 497.47,290.75 498.51,306.83 499.55,299.94 500.60,292.21 501.64,309.73 502.68,284.28 503.72,312.03 504.76,309.39 505.80,307.80" fill="none" stroke="#ff7f0e" stroke-width="0.9" stroke-linejoin="round" stroke-opacity="1.0"/>
<rect x="292.30" y="192.20" width="225.00" height="132.60" fill="none" stroke="#6e6e6e" stroke-width="1.0"/>
<rect x="448.20" y="194.80" width="66.20" height="17.40" rx="1.2" fill="#fff" fill-opacity="0.85" stroke="#d6d6d6" stroke-width="0.8"/>
<line x1="450.60" y1="199.30" x2="463.60" y2="199.30" stroke="#1f77b4" stroke-width="1.1"/>
<text x="467.60" y="201.31" font-size="6.1" textLength="37.90" lengthAdjust="spacingAndGlyphs" fill="#222">Training Loss</text>
<line x1="450.60" y1="207.30" x2="463.60" y2="207.30" stroke="#ff7f0e" stroke-width="1.1"/>
<text x="467.60" y="209.31" font-size="6.1" textLength="43.70" lengthAdjust="spacingAndGlyphs" fill="#222">Validation Loss</text>
<text x="36.90" y="355.40" font-size="12.4" textLength="15.60" lengthAdjust="spacingAndGlyphs" fill="#222">(b)</text>
<text x="101.60" y="368.90" font-size="8.2" textLength="84.90" lengthAdjust="spacingAndGlyphs" fill="#222">UNet IoU (AneRBC-I)</text>
<text x="0.80" y="432.80" font-size="6.8" textLength="11.10" lengthAdjust="spacingAndGlyphs" fill="#222">IoU</text>
<text x="133.40" y="510.70" font-size="6.8" textLength="20.80" lengthAdjust="spacingAndGlyphs" fill="#222">Epoch</text>
<line x1="35.20" y1="474.40" x2="37.50" y2="474.40" stroke="#6e6e6e" stroke-width="0.8"/>
<text x="17.66" y="476.92" font-size="7.0" textLength="14.44" lengthAdjust="spacingAndGlyphs" fill="#222">0.70</text>
<line x1="35.20" y1="453.35" x2="37.50" y2="453.35" stroke="#6e6e6e" stroke-width="0.8"/>
<text x="17.66" y="455.87" font-size="7.0" textLength="14.44" lengthAdjust="spacingAndGlyphs" fill="#222">0.75</text>
<line x1="35.20" y1="432.30" x2="37.50" y2="432.30" stroke="#6e6e6e" stroke-width="0.8"/>
<text x="17.66" y="434.82" font-size="7.0" textLength="14.44" lengthAdjust="spacingAndGlyphs" fill="#222">0.80</text>
<line x1="35.20" y1="411.25" x2="37.50" y2="411.25" stroke="#6e6e6e" stroke-width="0.8"/>
<text x="17.66" y="413.77" font-size="7.0" textLength="14.44" lengthAdjust="spacingAndGlyphs" fill="#222">0.85</text>
<line x1="35.20" y1="390.20" x2="37.50" y2="390.20" stroke="#6e6e6e" stroke-width="0.8"/>
<text x="17.66" y="392.72" font-size="7.0" textLength="14.44" lengthAdjust="spacingAndGlyphs" fill="#222">0.90</text>
<line x1="46.50" y1="493.20" x2="46.50" y2="495.50" stroke="#6e6e6e" stroke-width="0.8"/>
<text x="44.44" y="502.32" font-size="7.0" textLength="4.13" lengthAdjust="spacingAndGlyphs" fill="#222">0</text>
<line x1="75.21" y1="493.20" x2="75.21" y2="495.50" stroke="#6e6e6e" stroke-width="0.8"/>
<text x="71.09" y="502.32" font-size="7.0" textLength="8.25" lengthAdjust="spacingAndGlyphs" fill="#222">20</text>
<line x1="103.93" y1="493.20" x2="103.93" y2="495.50" stroke="#6e6e6e" stroke-width="0.8"/>
<text x="99.80" y="502.32" font-size="7.0" textLength="8.25" lengthAdjust="spacingAndGlyphs" fill="#222">40</text>
<line x1="132.64" y1="493.20" x2="132.64" y2="495.50" stroke="#6e6e6e" stroke-width="0.8"/>
<text x="128.52" y="502.32" font-size="7.0" textLength="8.25" lengthAdjust="spacingAndGlyphs" fill="#222">60</text>
<line x1="161.36" y1="493.20" x2="161.36" y2="495.50" stroke="#6e6e6e" stroke-width="0.8"/>
<text x="157.23" y="502.32" font-size="7.0" textLength="8.25" lengthAdjust="spacingAndGlyphs" fill="#222">80</text>
<line x1="190.07" y1="493.20" x2="190.07" y2="495.50" stroke="#6e6e6e" stroke-width="0.8"/>
<text x="183.88" y="502.32" font-size="7.0" textLength="12.38" lengthAdjust="spacingAndGlyphs" fill="#222">100</text>
<line x1="218.79" y1="493.20" x2="218.79" y2="495.50" stroke="#6e6e6e" stroke-width="0.8"/>
<text x="212.60" y="502.32" font-size="7.0" textLength="12.38" lengthAdjust="spacingAndGlyphs" fill="#222">120</text>
<line x1="247.50" y1="493.20" x2="247.50" y2="495.50" stroke="#6e6e6e" stroke-width="0.8"/>
<text x="241.31" y="502.32" font-size="7.0" textLength="12.38" lengthAdjust="spacingAndGlyphs" fill="#222">140</text>
<polyline points="46.50,484.50 47.94,484.50 49.37,484.50 50.81,484.50 52.24,484.50 53.68,484.50 55.11,474.67 56.55,461.51 57.99,452.86 59.42,442.58 60.86,436.35 62.29,434.35 63.73,430.16 65.16,426.88 66.60,423.55 68.04,419.38 69.47,416.71 70.91,413.42 72.34,409.12 73.78,407.98 75.21,406.50 76.65,404.69 78.09,402.97 79.52,400.90 80.96,400.18 82.39,398.70 83.83,396.85 85.26,396.26 86.70,395.21 88.14,394.70 89.57,394.56 91.01,394.20 92.44,393.06 93.88,392.40 95.31,392.86 96.75,391.65 98.19,391.09 99.62,390.89 101.06,390.91 102.49,389.90 103.93,389.55 105.36,389.67 106.80,388.79 108.24,388.80 109.67,388.56 111.11,387.84 112.54,387.63 113.98,387.36 115.41,386.89 116.85,386.49 118.29,386.16 119.72,385.93 121.16,385.70 122.59,385.70 124.03,385.98 125.46,385.90 126.90,385.32 128.34,385.27 129.77,385.01 131.21,385.47 132.64,385.25 134.08,384.39 135.51,384.58 136.95,384.36 138.39,384.84 139.82,384.41 141.26,383.78 142.69,383.93 144.13,383.47 145.56,384.16 147.00,383.79 148.44,383.33 149.87,383.58 151.31,383.12 152.74,383.23 154.18,383.57 155.61,383.48 157.05,382.47 158.49,383.23 159.92,383.04 161.36,382.79 162.79,382.32 164.23,382.10 165.66,382.39 167.10,382.29 168.54,381.91 169.97,382.34 171.41,382.16 172.84,381.83 174.28,381.73 175.71,382.25 177.15,382.09 178.59,381.98 180.02,381.30 181.46,381.25 182.89,380.88 184.33,381.00 185.76,381.44 187.20,380.84 188.64,380.53 190.07,381.09 191.51,381.33 192.94,380.85 194.38,380.84 195.81,380.84 197.25,380.87 198.69,380.69 200.12,379.83 201.56,380.55 202.99,379.88 204.43,380.18 205.86,380.09 207.30,379.35 208.74,379.77 210.17,379.78 211.61,379.40 213.04,379.06 214.48,379.12 215.91,378.68 217.35,379.04 218.79,378.81 220.22,378.54 221.66,378.73 223.09,378.40 224.53,378.59 225.96,378.85 227.40,378.79 228.84,378.06 230.27,378.02 231.71,377.75 233.14,377.94 234.58,377.98 236.01,378.33 237.45,377.56 238.89,378.24 240.32,377.86" fill="none" stroke="#1f77b4" stroke-width="1.1" stroke-linejoin="round" stroke-opacity="1.0"/>
<polyline points="46.50,431.46 47.94,487.03 49.37,432.30 50.81,432.30 52.24,482.82 53.68,474.40 55.11,442.82 56.55,470.19 57.99,440.72 59.42,440.72 60.86,442.82 62.29,436.51 63.73,431.65 65.16,428.85 66.60,424.34 68.04,421.71 69.47,418.31 70.91,413.85 72.34,410.31 73.78,408.63 75.21,406.77 76.65,406.23 78.09,404.73 79.52,403.19 80.96,400.42 82.39,400.26 83.83,398.71 85.26,398.29 86.70,397.62 88.14,397.00 89.57,395.90 91.01,395.68 92.44,394.95 93.88,393.51 95.31,394.16 96.75,392.67 98.19,392.36 99.62,392.20 101.06,391.77 102.49,391.05 103.93,390.91 105.36,393.15 106.80,390.46 108.24,390.17 109.67,389.51 111.11,388.20 112.54,388.84 113.98,389.17 115.41,391.88 116.85,387.62 118.29,387.97 119.72,387.37 121.16,388.08 122.59,387.92 124.03,386.80 125.46,387.52 126.90,387.01 128.34,386.75 129.77,386.92 131.21,387.03 132.64,386.95 134.08,385.39 135.51,385.66 136.95,385.14 138.39,385.71 139.82,384.88 141.26,384.91 142.69,385.17 144.13,385.19 145.56,385.11 147.00,385.42 148.44,385.08 149.87,384.45 151.31,385.13 152.74,384.03 154.18,384.43 155.61,384.18 157.05,383.73 158.49,383.89 159.92,384.55 161.36,384.27 162.79,384.56 164.23,384.43 165.66,382.95 167.10,383.41 168.54,382.75 169.97,382.95 171.41,383.57 172.84,382.50 174.28,382.49 175.71,383.11 177.15,383.59 178.59,383.15 180.02,383.30 181.46,382.91 182.89,383.25 184.33,382.21 185.76,381.73 187.20,382.81 188.64,381.86 190.07,382.07 191.51,382.12 192.94,381.37 194.38,382.07 195.81,381.29 197.25,382.38 198.69,380.86 200.12,381.95 201.56,382.11 202.99,380.68 204.43,380.81 205.86,380.78 207.30,380.53 208.74,381.02 210.17,381.31 211.61,380.90 213.04,379.83 214.48,379.68 215.91,380.72 217.35,380.29 218.79,380.17 220.22,379.41 221.66,380.71 223.09,379.39 224.53,380.19 225.96,379.67 227.40,380.24 228.84,380.24 230.27,378.95 231.71,379.46 233.14,378.68 234.58,378.77 236.01,378.87 237.45,379.83 238.89,378.98 240.32,378.30" fill="none" stroke="#ff7f0e" stroke-width="1.1" stroke-linejoin="round" stroke-opacity="1.0"/>
<rect x="37.50" y="372.40" width="212.30" height="120.80" fill="none" stroke="#6e6e6e" stroke-width="1.0"/>
<rect x="173.80" y="423.00" width="72.70" height="19.50" rx="1.2" fill="#fff" fill-opacity="0.85" stroke="#d6d6d6" stroke-width="0.8"/>
<line x1="175.60" y1="427.30" x2="190.80" y2="427.30" stroke="#1f77b4" stroke-width="1.1"/>
<text x="196.00" y="429.54" font-size="6.8" textLength="40.50" lengthAdjust="spacingAndGlyphs" fill="#222">Training IoU</text>
<line x1="175.60" y1="436.80" x2="190.80" y2="436.80" stroke="#ff7f0e" stroke-width="1.1"/>
<text x="196.00" y="439.04" font-size="6.8" textLength="47.40" lengthAdjust="spacingAndGlyphs" fill="#222">Validation IoU</text>
<text x="327.70" y="374.00" font-size="8.2" textLength="135.40" lengthAdjust="spacingAndGlyphs" fill="#222">Unet Dice Coefficient (AneRBC-I)</text>
<text transform="translate(258.76,429.95) rotate(90)" x="-23.05" y="0" font-size="6.8" textLength="46.10" lengthAdjust="spacingAndGlyphs" fill="#222">Dice Coefficient</text>
<text x="384.60" y="514.50" font-size="6.8" textLength="20.80" lengthAdjust="spacingAndGlyphs" fill="#222">Epoch</text>
<line x1="287.90" y1="482.40" x2="290.20" y2="482.40" stroke="#6e6e6e" stroke-width="0.8"/>
<text x="270.36" y="484.92" font-size="7.0" textLength="14.44" lengthAdjust="spacingAndGlyphs" fill="#222">0.70</text>
<line x1="287.90" y1="463.50" x2="290.20" y2="463.50" stroke="#6e6e6e" stroke-width="0.8"/>
<text x="270.36" y="466.02" font-size="7.0" textLength="14.44" lengthAdjust="spacingAndGlyphs" fill="#222">0.75</text>
<line x1="287.90" y1="444.60" x2="290.20" y2="444.60" stroke="#6e6e6e" stroke-width="0.8"/>
<text x="270.36" y="447.12" font-size="7.0" textLength="14.44" lengthAdjust="spacingAndGlyphs" fill="#222">0.80</text>
<line x1="287.90" y1="425.70" x2="290.20" y2="425.70" stroke="#6e6e6e" stroke-width="0.8"/>
<text x="270.36" y="428.22" font-size="7.0" textLength="14.44" lengthAdjust="spacingAndGlyphs" fill="#222">0.85</text>
<line x1="287.90" y1="406.80" x2="290.20" y2="406.80" stroke="#6e6e6e" stroke-width="0.8"/>
<text x="270.36" y="409.32" font-size="7.0" textLength="14.44" lengthAdjust="spacingAndGlyphs" fill="#222">0.90</text>
<line x1="287.90" y1="387.90" x2="290.20" y2="387.90" stroke="#6e6e6e" stroke-width="0.8"/>
<text x="270.36" y="390.42" font-size="7.0" textLength="14.44" lengthAdjust="spacingAndGlyphs" fill="#222">0.95</text>
<line x1="299.60" y1="497.50" x2="299.60" y2="499.80" stroke="#6e6e6e" stroke-width="0.8"/>
<text x="297.54" y="506.92" font-size="7.0" textLength="4.13" lengthAdjust="spacingAndGlyphs" fill="#222">0</text>
<line x1="327.91" y1="497.50" x2="327.91" y2="499.80" stroke="#6e6e6e" stroke-width="0.8"/>
<text x="323.79" y="506.92" font-size="7.0" textLength="8.25" lengthAdjust="spacingAndGlyphs" fill="#222">20</text>
<line x1="356.23" y1="497.50" x2="356.23" y2="499.80" stroke="#6e6e6e" stroke-width="0.8"/>
<text x="352.10" y="506.92" font-size="7.0" textLength="8.25" lengthAdjust="spacingAndGlyphs" fill="#222">40</text>
<line x1="384.54" y1="497.50" x2="384.54" y2="499.80" stroke="#6e6e6e" stroke-width="0.8"/>
<text x="380.42" y="506.92" font-size="7.0" textLength="8.25" lengthAdjust="spacingAndGlyphs" fill="#222">60</text>
<line x1="412.86" y1="497.50" x2="412.86" y2="499.80" stroke="#6e6e6e" stroke-width="0.8"/>
<text x="408.73" y="506.92" font-size="7.0" textLength="8.25" lengthAdjust="spacingAndGlyphs" fill="#222">80</text>
<line x1="441.17" y1="497.50" x2="441.17" y2="499.80" stroke="#6e6e6e" stroke-width="0.8"/>
<text x="434.98" y="506.92" font-size="7.0" textLength="12.38" lengthAdjust="spacingAndGlyphs" fill="#222">100</text>
<line x1="469.49" y1="497.50" x2="469.49" y2="499.80" stroke="#6e6e6e" stroke-width="0.8"/>
<text x="463.30" y="506.92" font-size="7.0" textLength="12.38" lengthAdjust="spacingAndGlyphs" fill="#222">120</text>
<line x1="497.80" y1="497.50" x2="497.80" y2="499.80" stroke="#6e6e6e" stroke-width="0.8"/>
<text x="491.61" y="506.92" font-size="7.0" textLength="12.38" lengthAdjust="spacingAndGlyphs" fill="#222">140</text>
<polyline points="299.60,442.33 301.02,442.33 302.43,442.33 303.85,442.33 305.26,442.33 306.68,442.33 308.09,429.45 309.51,421.99 310.93,417.24 312.34,414.82 313.76,412.17 315.17,409.73 316.59,407.60 318.00,405.83 319.42,403.98 320.84,402.29 322.25,400.24 323.67,399.74 325.08,398.62 326.50,397.81 327.91,397.31 329.33,396.04 330.75,395.36 332.16,393.73 333.58,393.24 334.99,393.11 336.41,392.29 337.82,391.78 339.24,391.64 340.66,391.00 342.07,391.02 343.49,390.23 344.90,390.05 346.32,389.73 347.73,390.14 349.15,389.82 350.57,389.49 351.98,389.35 353.40,389.45 354.81,388.88 356.23,388.75 357.64,388.93 359.06,388.87 360.48,388.41 361.89,388.42 363.31,388.12 364.72,388.08 366.14,387.99 367.55,388.07 368.97,387.86 370.39,387.51 371.80,387.21 373.22,387.24 374.63,386.90 376.05,386.88 377.46,386.53 378.88,386.52 380.30,386.66 381.71,386.70 383.13,386.68 384.54,386.63 385.96,386.07 387.37,386.00 388.79,386.00 390.21,386.33 391.62,385.93 393.04,386.18 394.45,385.66 395.87,385.73 397.28,385.61 398.70,385.63 400.12,385.68 401.53,385.35 402.95,385.22 404.36,385.59 405.78,385.40 407.19,385.15 408.61,385.12 410.03,385.21 411.44,385.12 412.86,384.74 414.27,385.09 415.69,385.06 417.10,384.71 418.52,384.89 419.94,384.45 421.35,384.76 422.77,384.36 424.18,384.65 425.60,384.31 427.01,384.36 428.43,384.33 429.85,384.61 431.26,384.61 432.68,384.65 434.09,384.52 435.51,384.20 436.92,384.52 438.34,384.38 439.76,384.15 441.17,384.36 442.59,384.22 444.00,384.25 445.42,383.94 446.83,384.24 448.25,383.68 449.67,383.88 451.08,383.78 452.50,383.84 453.91,383.84 455.33,383.51 456.74,383.53 458.16,383.53 459.58,383.98 460.99,383.60 462.41,383.35 463.82,383.50 465.24,383.54 466.65,383.42 468.07,383.67 469.49,383.31 470.90,383.24 472.32,383.63 473.73,383.33 475.15,383.24 476.56,383.36 477.98,383.12 479.40,382.94 480.81,382.91 482.23,383.24 483.64,383.30 485.06,382.84 486.47,382.95 487.89,382.78 489.31,382.72 490.72,383.04" fill="none" stroke="#1f77b4" stroke-width="1.1" stroke-linejoin="round" stroke-opacity="1.0"/>
<polyline points="299.60,492.23 301.02,444.60 302.43,444.60 303.85,492.23 305.26,492.23 306.68,440.82 308.09,417.01 309.51,428.72 310.93,416.25 312.34,416.24 313.76,413.54 315.17,410.76 316.59,409.18 318.00,407.01 319.42,404.59 320.84,402.98 322.25,401.57 323.67,400.41 325.08,399.38 326.50,399.27 327.91,397.72 329.33,396.98 330.75,396.17 332.16,395.21 333.58,393.97 334.99,394.03 336.41,393.74 337.82,393.23 339.24,392.05 340.66,391.95 342.07,391.46 343.49,391.22 344.90,391.08 346.32,390.53 347.73,390.92 349.15,390.61 350.57,390.21 351.98,390.25 353.40,389.88 354.81,389.98 356.23,391.30 357.64,390.16 359.06,389.85 360.48,389.65 361.89,389.69 363.31,389.41 364.72,389.38 366.14,390.55 367.55,388.60 368.97,388.70 370.39,388.55 371.80,388.55 373.22,388.35 374.63,387.60 376.05,387.72 377.46,387.61 378.88,387.86 380.30,387.29 381.71,387.73 383.13,387.47 384.54,386.85 385.96,387.11 387.37,387.12 388.79,386.93 390.21,386.72 391.62,386.72 393.04,387.15 394.45,387.26 395.87,386.94 397.28,386.92 398.70,386.90 400.12,386.18 401.53,386.17 402.95,386.61 404.36,386.23 405.78,386.40 407.19,385.86 408.61,386.21 410.03,386.32 411.44,386.27 412.86,385.91 414.27,386.12 415.69,385.76 417.10,385.41 418.52,385.79 419.94,385.89 421.35,385.15 422.77,385.55 424.18,385.90 425.60,385.90 427.01,385.81 428.43,385.30 429.85,385.12 431.26,385.42 432.68,385.71 434.09,385.38 435.51,384.79 436.92,385.18 438.34,384.74 439.76,384.81 441.17,385.54 442.59,384.86 444.00,384.86 445.42,384.96 446.83,385.17 448.25,384.79 449.67,385.24 451.08,384.91 452.50,384.86 453.91,384.37 455.33,384.40 456.74,384.92 458.16,384.67 459.58,384.93 460.99,384.23 462.41,384.23 463.82,384.71 465.24,384.37 466.65,384.36 468.07,384.74 469.49,384.15 470.90,384.32 472.32,384.06 473.73,384.25 475.15,384.70 476.56,384.37 477.98,384.61 479.40,383.75 480.81,383.76 482.23,383.77 483.64,384.21 485.06,384.40 486.47,383.62 487.89,383.52 489.31,384.27 490.72,383.87" fill="none" stroke="#ff7f0e" stroke-width="1.1" stroke-linejoin="round" stroke-opacity="1.0"/>
<rect x="290.20" y="377.40" width="210.40" height="120.10" fill="none" stroke="#6e6e6e" stroke-width="1.0"/>
<rect x="380.50" y="427.50" width="115.80" height="19.50" rx="1.2" fill="#fff" fill-opacity="0.85" stroke="#d6d6d6" stroke-width="0.8"/>
<line x1="383.80" y1="432.00" x2="397.50" y2="432.00" stroke="#1f77b4" stroke-width="1.1"/>
<text x="403.80" y="434.24" font-size="6.8" textLength="83.70" lengthAdjust="spacingAndGlyphs" fill="#222">Training Dice Coefficient</text>
<line x1="383.80" y1="441.50" x2="397.50" y2="441.50" stroke="#ff7f0e" stroke-width="1.1"/>
<text x="403.80" y="443.74" font-size="6.8" textLength="90.50" lengthAdjust="spacingAndGlyphs" fill="#222">Validation Dice Coefficient</text>
<text x="106.60" y="524.90" font-size="8.2" textLength="85.00" lengthAdjust="spacingAndGlyphs" fill="#222">UNet IoU (AneRBC-II)</text>
<text x="5.30" y="580.90" font-size="6.8" textLength="10.60" lengthAdjust="spacingAndGlyphs" fill="#222">IoU</text>
<text x="138.50" y="659.80" font-size="6.8" textLength="20.80" lengthAdjust="spacingAndGlyphs" fill="#222">Epoch</text>
<line x1="43.80" y1="637.10" x2="46.10" y2="637.10" stroke="#6e6e6e" stroke-width="0.8"/>
<text x="22.34" y="639.62" font-size="7.0" textLength="18.56" lengthAdjust="spacingAndGlyphs" fill="#222">0.750</text>
<line x1="43.80" y1="624.00" x2="46.10" y2="624.00" stroke="#6e6e6e" stroke-width="0.8"/>
<text x="22.34" y="626.52" font-size="7.0" textLength="18.56" lengthAdjust="spacingAndGlyphs" fill="#222">0.775</text>
<line x1="43.80" y1="610.90" x2="46.10" y2="610.90" stroke="#6e6e6e" stroke-width="0.8"/>
<text x="22.34" y="613.42" font-size="7.0" textLength="18.56" lengthAdjust="spacingAndGlyphs" fill="#222">0.800</text>
<line x1="43.80" y1="597.80" x2="46.10" y2="597.80" stroke="#6e6e6e" stroke-width="0.8"/>
<text x="22.34" y="600.32" font-size="7.0" textLength="18.56" lengthAdjust="spacingAndGlyphs" fill="#222">0.825</text>
<line x1="43.80" y1="584.70" x2="46.10" y2="584.70" stroke="#6e6e6e" stroke-width="0.8"/>
<text x="22.34" y="587.22" font-size="7.0" textLength="18.56" lengthAdjust="spacingAndGlyphs" fill="#222">0.850</text>
<line x1="43.80" y1="571.60" x2="46.10" y2="571.60" stroke="#6e6e6e" stroke-width="0.8"/>
<text x="22.34" y="574.12" font-size="7.0" textLength="18.56" lengthAdjust="spacingAndGlyphs" fill="#222">0.875</text>
<line x1="43.80" y1="558.50" x2="46.10" y2="558.50" stroke="#6e6e6e" stroke-width="0.8"/>
<text x="22.34" y="561.02" font-size="7.0" textLength="18.56" lengthAdjust="spacingAndGlyphs" fill="#222">0.900</text>
<line x1="43.80" y1="545.40" x2="46.10" y2="545.40" stroke="#6e6e6e" stroke-width="0.8"/>
<text x="22.34" y="547.92" font-size="7.0" textLength="18.56" lengthAdjust="spacingAndGlyphs" fill="#222">0.925</text>
<line x1="43.80" y1="532.30" x2="46.10" y2="532.30" stroke="#6e6e6e" stroke-width="0.8"/>
<text x="22.34" y="534.82" font-size="7.0" textLength="18.56" lengthAdjust="spacingAndGlyphs" fill="#222">0.950</text>
<line x1="55.10" y1="643.30" x2="55.10" y2="645.60" stroke="#6e6e6e" stroke-width="0.8"/>
<text x="53.04" y="652.72" font-size="7.0" textLength="4.13" lengthAdjust="spacingAndGlyphs" fill="#222">0</text>
<line x1="89.58" y1="643.30" x2="89.58" y2="645.60" stroke="#6e6e6e" stroke-width="0.8"/>
<text x="85.45" y="652.72" font-size="7.0" textLength="8.25" lengthAdjust="spacingAndGlyphs" fill="#222">50</text>
<line x1="124.06" y1="643.30" x2="124.06" y2="645.60" stroke="#6e6e6e" stroke-width="0.8"/>
<text x="117.87" y="652.72" font-size="7.0" textLength="12.38" lengthAdjust="spacingAndGlyphs" fill="#222">100</text>
<line x1="158.54" y1="643.30" x2="158.54" y2="645.60" stroke="#6e6e6e" stroke-width="0.8"/>
<text x="152.35" y="652.72" font-size="7.0" textLength="12.38" lengthAdjust="spacingAndGlyphs" fill="#222">150</text>
<line x1="193.02" y1="643.30" x2="193.02" y2="645.60" stroke="#6e6e6e" stroke-width="0.8"/>
<text x="186.83" y="652.72" font-size="7.0" textLength="12.38" lengthAdjust="spacingAndGlyphs" fill="#222">200</text>
<line x1="227.50" y1="643.30" x2="227.50" y2="645.60" stroke="#6e6e6e" stroke-width="0.8"/>
<text x="221.31" y="652.72" font-size="7.0" textLength="12.38" lengthAdjust="spacingAndGlyphs" fill="#222">250</text>
<polyline points="55.10,638.42 55.79,585.75 56.48,575.62 57.17,567.60 57.86,560.88 58.55,557.40 59.24,553.86 59.93,550.67 60.62,546.32 61.31,545.23 62.00,544.07 62.69,542.64 63.38,542.27 64.06,542.09 64.75,541.00 65.44,541.20 66.13,540.18 66.82,539.90 67.51,540.63 68.20,540.26 68.89,539.91 69.58,539.43 70.27,539.97 70.96,539.38 71.65,539.51 72.34,539.00 73.03,538.78 73.72,538.88 74.41,539.41 75.10,538.74 75.79,539.01 76.48,538.52 77.17,538.83 77.86,538.30 78.55,538.15 79.24,538.25 79.93,538.19 80.62,538.15 81.30,538.33 81.99,538.72 82.68,537.82 83.37,538.31 84.06,538.73 84.75,538.24 85.44,538.21 86.13,538.38 86.82,537.53 87.51,538.37 88.20,537.48 88.89,537.80 89.58,538.14 90.27,537.92 90.96,537.80 91.65,538.12 92.34,537.42 93.03,537.51 93.72,537.13 94.41,537.26 95.10,537.28 95.79,537.03 96.48,537.07 97.17,537.35 97.86,537.43 98.54,537.42 99.23,537.09 99.92,536.94 100.61,537.02 101.30,536.98 101.99,537.80 102.68,537.36 103.37,537.68 104.06,537.13 104.75,537.11 105.44,537.11 106.13,536.77 106.82,537.40 107.51,536.85 108.20,536.97 108.89,537.33 109.58,536.50 110.27,537.44 110.96,536.99 111.65,536.88 112.34,536.79 113.03,536.36 113.72,536.79 114.41,536.41 115.10,537.00 115.78,536.78 116.47,537.10 117.16,536.56 117.85,536.76 118.54,536.35 119.23,537.03 119.92,536.63 120.61,536.09 121.30,537.05 121.99,536.34 122.68,536.30 123.37,536.22 124.06,536.37 124.75,536.40 125.44,535.89 126.13,536.58 126.82,536.11 127.51,536.12 128.20,536.03 128.89,536.26 129.58,536.72 130.27,535.90 130.96,536.39 131.65,535.84 132.34,535.59 133.02,535.79 133.71,536.15 134.40,535.65 135.09,536.12 135.78,536.16 136.47,535.87 137.16,535.75 137.85,535.69 138.54,535.81 139.23,535.93 139.92,535.55 140.61,535.96 141.30,535.64 141.99,536.24 142.68,536.08 143.37,535.29 144.06,535.94 144.75,535.71 145.44,536.06 146.13,535.28 146.82,535.71 147.51,535.98 148.20,535.72 148.89,535.00 149.58,535.16 150.26,535.92 150.95,534.90 151.64,535.79 152.33,535.33 153.02,535.25 153.71,534.97 154.40,535.61 155.09,534.87 155.78,535.42 156.47,534.92 157.16,534.71 157.85,535.05 158.54,535.65 159.23,534.94 159.92,535.17 160.61,534.85 161.30,534.78 161.99,535.48 162.68,534.98 163.37,534.89 164.06,534.58 164.75,534.90 165.44,534.88 166.13,534.71 166.82,535.34 167.50,534.59 168.19,534.87 168.88,534.80 169.57,535.29 170.26,534.89 170.95,535.00 171.64,535.20 172.33,534.42 173.02,534.50 173.71,534.90 174.40,535.29 175.09,534.32 175.78,535.22 176.47,534.80 177.16,534.72 177.85,534.41 178.54,534.60 179.23,534.64 179.92,534.73 180.61,534.23 181.30,534.38 181.99,534.85 182.68,534.38 183.37,534.21 184.06,534.68 184.74,535.09 185.43,535.09 186.12,534.14 186.81,534.92 187.50,534.28 188.19,534.91 188.88,534.87 189.57,534.92 190.26,534.22 190.95,534.97 191.64,534.56 192.33,534.19 193.02,534.47 193.71,535.01 194.40,534.99 195.09,534.13 195.78,534.68 196.47,534.90 197.16,534.43 197.85,534.15 198.54,534.65 199.23,534.82 199.92,534.76 200.61,534.45 201.30,534.12 201.98,534.84 202.67,534.13 203.36,534.20 204.05,534.32 204.74,534.50 205.43,534.86 206.12,534.36 206.81,534.45 207.50,534.16 208.19,534.80 208.88,534.68 209.57,534.83 210.26,534.33 210.95,534.77 211.64,534.27 212.33,534.36 213.02,534.47 213.71,534.61 214.40,533.83 215.09,534.29 215.78,534.68 216.47,534.17 217.16,533.97 217.85,534.25 218.54,533.82 219.22,533.87 219.91,534.03 220.60,534.71 221.29,534.30 221.98,534.18 222.67,534.53 223.36,534.18 224.05,534.00 224.74,533.90 225.43,533.89 226.12,533.89 226.81,534.35 227.50,534.02 228.19,534.13 228.88,533.85 229.57,534.51 230.26,534.45 230.95,533.87 231.64,533.86 232.33,534.37 233.02,533.80 233.71,533.78 234.40,533.91 235.09,534.10 235.78,534.51 236.46,534.32 237.15,533.76 237.84,533.58 238.53,534.37 239.22,534.50 239.91,534.16 240.60,533.54 241.29,534.29 241.98,533.53 242.67,533.68" fill="none" stroke="#1f77b4" stroke-width="1.1" stroke-linejoin="round" stroke-opacity="1.0"/>
<polyline points="55.10,594.66 55.79,586.49 56.48,574.89 57.17,567.96 57.86,559.86 58.55,557.61 59.24,553.61 59.93,551.13 60.62,545.99 61.31,545.62 62.00,544.66 62.69,543.04 63.38,542.14 64.06,542.72 64.75,541.71 65.44,541.92 66.13,541.41 66.82,540.82 67.51,540.59 68.20,540.39 68.89,539.42 69.58,539.90 70.27,540.07 70.96,538.83 71.65,538.71 72.34,538.55 73.03,539.10 73.72,538.87 74.41,538.45 75.10,538.94 75.79,539.55 76.48,538.84 77.17,538.75 77.86,539.27 78.55,539.34 79.24,539.12 79.93,538.20 80.62,537.96 81.30,538.17 81.99,538.50 82.68,539.12 83.37,539.10 84.06,541.73 84.75,538.12 85.44,538.19 86.13,538.61 86.82,538.64 87.51,538.50 88.20,538.53 88.89,537.69 89.58,538.13 90.27,537.68 90.96,538.92 91.65,537.64 92.34,537.28 93.03,537.19 93.72,539.79 94.41,536.84 95.10,536.99 95.79,537.02 96.48,537.61 97.17,536.74 97.86,536.95 98.54,537.88 99.23,537.10 99.92,536.80 100.61,536.94 101.30,536.66 101.99,537.26 102.68,536.99 103.37,537.96 104.06,536.95 104.75,537.79 105.44,536.79 106.13,536.47 106.82,537.33 107.51,537.81 108.20,537.82 108.89,537.00 109.58,537.58 110.27,536.58 110.96,536.77 111.65,536.92 112.34,536.61 113.03,537.45 113.72,536.91 114.41,537.57 115.10,536.70 115.78,536.26 116.47,537.31 117.16,536.39 117.85,535.85 118.54,536.94 119.23,537.11 119.92,537.01 120.61,536.01 121.30,537.24 121.99,536.05 122.68,536.88 123.37,537.80 124.06,535.78 124.75,535.82 125.44,536.89 126.13,536.27 126.82,536.63 127.51,535.67 128.20,536.61 128.89,536.80 129.58,536.37 130.27,536.88 130.96,536.62 131.65,535.79 132.34,536.40 133.02,536.61 133.71,535.32 134.40,536.42 135.09,535.50 135.78,535.66 136.47,535.85 137.16,535.67 137.85,535.75 138.54,535.29 139.23,535.51 139.92,537.49 140.61,535.52 141.30,535.74 141.99,535.02 142.68,536.34 143.37,535.75 144.06,534.86 144.75,536.34 145.44,535.21 146.13,534.89 146.82,535.35 147.51,536.25 148.20,535.02 148.89,535.85 149.58,535.40 150.26,534.87 150.95,537.16 151.64,536.54 152.33,535.96 153.02,535.55 153.71,535.93 154.40,534.91 155.09,534.66 155.78,535.93 156.47,535.12 157.16,536.22 157.85,534.68 158.54,535.53 159.23,535.07 159.92,534.80 160.61,535.06 161.30,534.24 161.99,534.38 162.68,534.27 163.37,535.67 164.06,535.83 164.75,534.87 165.44,534.87 166.13,536.22 166.82,535.41 167.50,534.49 168.19,534.46 168.88,535.76 169.57,535.56 170.26,534.55 170.95,535.03 171.64,535.47 172.33,534.13 173.02,535.15 173.71,535.56 174.40,534.99 175.09,534.99 175.78,534.57 176.47,534.36 177.16,535.49 177.85,534.83 178.54,534.09 179.23,534.78 179.92,534.09 180.61,534.06 181.30,534.21 181.99,534.45 182.68,535.34 183.37,533.87 184.06,535.00 184.74,534.98 185.43,534.63 186.12,537.02 186.81,534.16 187.50,534.54 188.19,533.88 188.88,534.10 189.57,534.32 190.26,534.93 190.95,534.31 191.64,534.52 192.33,534.91 193.02,534.88 193.71,534.00 194.40,534.13 195.09,535.02 195.78,533.74 196.47,534.49 197.16,534.56 197.85,534.72 198.54,536.20 199.23,533.93 199.92,533.72 200.61,534.47 201.30,534.36 201.98,534.46 202.67,535.03 203.36,533.74 204.05,535.31 204.74,535.17 205.43,534.82 206.12,534.70 206.81,533.88 207.50,534.89 208.19,534.92 208.88,533.66 209.57,534.65 210.26,533.60 210.95,536.37 211.64,534.99 212.33,534.78 213.02,534.47 213.71,534.22 214.40,534.56 215.09,533.49 215.78,534.35 216.47,534.14 217.16,533.43 217.85,533.63 218.54,533.43 219.22,534.08 219.91,534.88 220.60,534.10 221.29,534.96 221.98,534.35 222.67,533.36 223.36,534.36 224.05,533.86 224.74,533.41 225.43,533.81 226.12,534.35 226.81,534.12 227.50,534.77 228.19,533.66 228.88,533.87 229.57,534.41 230.26,534.22 230.95,533.51 231.64,534.85 232.33,534.56 233.02,533.86 233.71,533.58 234.40,533.99 235.09,533.84 235.78,534.87 236.46,533.92 237.15,533.94 237.84,534.74 238.53,533.97 239.22,534.43 239.91,534.27 240.60,533.51 241.29,533.43 241.98,534.80 242.67,534.29" fill="none" stroke="#ff7f0e" stroke-width="1.1" stroke-linejoin="round" stroke-opacity="1.0"/>
<rect x="46.10" y="528.00" width="206.40" height="115.30" fill="none" stroke="#6e6e6e" stroke-width="1.0"/>
<rect x="177.50" y="576.30" width="71.00" height="18.70" rx="1.2" fill="#fff" fill-opacity="0.85" stroke="#d6d6d6" stroke-width="0.8"/>
<line x1="180.00" y1="580.70" x2="194.30" y2="580.70" stroke="#1f77b4" stroke-width="1.1"/>
<text x="199.70" y="582.94" font-size="6.8" textLength="39.90" lengthAdjust="spacingAndGlyphs" fill="#222">Training IoU</text>
<line x1="180.00" y1="589.30" x2="194.30" y2="589.30" stroke="#ff7f0e" stroke-width="1.1"/>
<text x="199.70" y="591.54" font-size="6.8" textLength="46.50" lengthAdjust="spacingAndGlyphs" fill="#222">Validation IoU</text>
<text x="327.70" y="526.00" font-size="8.2" textLength="140.80" lengthAdjust="spacingAndGlyphs" fill="#222">Unet Dice Coefficient (AneRBC-II)</text>
<text transform="translate(264.26,594.40) rotate(90)" x="-22.70" y="0" font-size="6.8" textLength="45.40" lengthAdjust="spacingAndGlyphs" fill="#222">Dice Coefficient</text>
<text x="387.60" y="666.50" font-size="6.8" textLength="20.80" lengthAdjust="spacingAndGlyphs" fill="#222">Epoch</text>
<line x1="289.00" y1="637.40" x2="291.30" y2="637.40" stroke="#6e6e6e" stroke-width="0.8"/>
<text x="271.46" y="639.92" font-size="7.0" textLength="14.44" lengthAdjust="spacingAndGlyphs" fill="#222">0.86</text>
<line x1="289.00" y1="619.12" x2="291.30" y2="619.12" stroke="#6e6e6e" stroke-width="0.8"/>
<text x="271.46" y="621.64" font-size="7.0" textLength="14.44" lengthAdjust="spacingAndGlyphs" fill="#222">0.88</text>
<line x1="289.00" y1="600.84" x2="291.30" y2="600.84" stroke="#6e6e6e" stroke-width="0.8"/>
<text x="271.46" y="603.36" font-size="7.0" textLength="14.44" lengthAdjust="spacingAndGlyphs" fill="#222">0.90</text>
<line x1="289.00" y1="582.56" x2="291.30" y2="582.56" stroke="#6e6e6e" stroke-width="0.8"/>
<text x="271.46" y="585.08" font-size="7.0" textLength="14.44" lengthAdjust="spacingAndGlyphs" fill="#222">0.92</text>
<line x1="289.00" y1="564.28" x2="291.30" y2="564.28" stroke="#6e6e6e" stroke-width="0.8"/>
<text x="271.46" y="566.80" font-size="7.0" textLength="14.44" lengthAdjust="spacingAndGlyphs" fill="#222">0.94</text>
<line x1="289.00" y1="546.00" x2="291.30" y2="546.00" stroke="#6e6e6e" stroke-width="0.8"/>
<text x="271.46" y="548.52" font-size="7.0" textLength="14.44" lengthAdjust="spacingAndGlyphs" fill="#222">0.96</text>
<line x1="300.90" y1="648.00" x2="300.90" y2="650.30" stroke="#6e6e6e" stroke-width="0.8"/>
<text x="298.84" y="657.12" font-size="7.0" textLength="4.13" lengthAdjust="spacingAndGlyphs" fill="#222">0</text>
<line x1="336.80" y1="648.00" x2="336.80" y2="650.30" stroke="#6e6e6e" stroke-width="0.8"/>
<text x="332.67" y="657.12" font-size="7.0" textLength="8.25" lengthAdjust="spacingAndGlyphs" fill="#222">50</text>
<line x1="372.70" y1="648.00" x2="372.70" y2="650.30" stroke="#6e6e6e" stroke-width="0.8"/>
<text x="366.51" y="657.12" font-size="7.0" textLength="12.38" lengthAdjust="spacingAndGlyphs" fill="#222">100</text>
<line x1="408.60" y1="648.00" x2="408.60" y2="650.30" stroke="#6e6e6e" stroke-width="0.8"/>
<text x="402.41" y="657.12" font-size="7.0" textLength="12.38" lengthAdjust="spacingAndGlyphs" fill="#222">150</text>
<line x1="444.50" y1="648.00" x2="444.50" y2="650.30" stroke="#6e6e6e" stroke-width="0.8"/>
<text x="438.31" y="657.12" font-size="7.0" textLength="12.38" lengthAdjust="spacingAndGlyphs" fill="#222">200</text>
<line x1="480.40" y1="648.00" x2="480.40" y2="650.30" stroke="#6e6e6e" stroke-width="0.8"/>
<text x="474.21" y="657.12" font-size="7.0" textLength="12.38" lengthAdjust="spacingAndGlyphs" fill="#222">250</text>
<polyline points="300.90,642.89 301.62,581.57 302.34,571.20 303.05,565.18 303.77,560.10 304.49,556.09 305.21,552.90 305.93,549.69 306.64,546.81 307.36,546.21 308.08,545.73 308.80,544.44 309.52,543.42 310.23,543.25 310.95,543.00 311.67,543.06 312.39,542.61 313.11,542.66 313.82,541.59 314.54,542.03 315.26,541.91 315.98,540.91 316.70,541.60 317.41,540.67 318.13,541.00 318.85,540.70 319.57,540.74 320.29,541.19 321.00,540.38 321.72,540.83 322.44,540.51 323.16,540.74 323.88,540.70 324.59,540.17 325.31,540.50 326.03,539.98 326.75,539.34 327.47,539.10 328.18,539.79 328.90,540.15 329.62,539.80 330.34,540.11 331.06,539.87 331.77,539.31 332.49,539.27 333.21,539.97 333.93,539.34 334.65,539.38 335.36,539.37 336.08,539.66 336.80,539.28 337.52,539.62 338.24,538.83 338.95,538.84 339.67,538.83 340.39,539.07 341.11,538.33 341.83,539.05 342.54,539.22 343.26,538.96 343.98,538.24 344.70,539.16 345.42,538.35 346.13,538.09 346.85,538.16 347.57,538.62 348.29,538.60 349.01,538.02 349.72,538.19 350.44,538.03 351.16,538.79 351.88,538.21 352.60,538.00 353.31,538.60 354.03,538.61 354.75,537.76 355.47,538.07 356.19,538.23 356.90,538.10 357.62,538.35 358.34,538.33 359.06,538.47 359.78,538.05 360.49,538.34 361.21,537.34 361.93,537.23 362.65,537.66 363.37,538.27 364.08,537.60 364.80,538.14 365.52,537.84 366.24,538.12 366.96,537.62 367.67,538.14 368.39,537.85 369.11,537.89 369.83,537.56 370.55,536.94 371.26,537.37 371.98,537.08 372.70,537.13 373.42,537.35 374.14,537.92 374.85,537.91 375.57,537.78 376.29,537.27 377.01,537.47 377.73,536.69 378.44,537.60 379.16,537.66 379.88,536.98 380.60,537.00 381.32,537.69 382.03,537.29 382.75,537.13 383.47,536.62 384.19,536.66 384.91,536.51 385.62,536.92 386.34,536.38 387.06,536.95 387.78,537.16 388.50,537.32 389.21,536.41 389.93,536.62 390.65,536.63 391.37,536.15 392.09,536.56 392.80,536.95 393.52,536.43 394.24,536.11 394.96,537.04 395.68,536.04 396.39,536.69 397.11,537.05 397.83,536.52 398.55,536.15 399.27,536.49 399.98,536.75 400.70,536.09 401.42,536.91 402.14,536.17 402.86,536.55 403.57,536.21 404.29,536.33 405.01,536.60 405.73,536.68 406.45,535.88 407.16,536.32 407.88,536.53 408.60,536.12 409.32,535.88 410.04,536.73 410.75,536.24 411.47,536.61 412.19,535.81 412.91,536.72 413.63,535.69 414.34,536.02 415.06,536.06 415.78,536.02 416.50,536.33 417.22,536.10 417.93,536.44 418.65,536.18 419.37,535.86 420.09,535.82 420.81,536.18 421.52,535.79 422.24,535.55 422.96,535.55 423.68,536.52 424.40,535.87 425.11,536.27 425.83,535.42 426.55,535.71 427.27,535.87 427.99,535.64 428.70,535.75 429.42,536.12 430.14,535.20 430.86,536.28 431.58,536.29 432.29,535.95 433.01,536.12 433.73,535.81 434.45,535.48 435.17,535.76 435.88,535.00 436.60,535.80 437.32,535.00 438.04,534.93 438.76,535.47 439.47,535.12 440.19,536.04 440.91,534.93 441.63,535.54 442.35,535.66 443.06,534.89 443.78,535.54 444.50,535.92 445.22,535.99 445.94,534.99 446.65,535.77 447.37,535.17 448.09,535.86 448.81,534.92 449.53,534.71 450.24,535.46 450.96,534.91 451.68,534.76 452.40,535.60 453.12,535.28 453.83,534.60 454.55,534.64 455.27,535.13 455.99,535.13 456.71,535.79 457.42,534.75 458.14,534.59 458.86,535.06 459.58,535.47 460.30,535.60 461.01,534.93 461.73,534.84 462.45,534.96 463.17,534.63 463.89,535.65 464.60,535.67 465.32,535.54 466.04,535.26 466.76,535.58 467.48,535.32 468.19,535.35 468.91,534.57 469.63,534.92 470.35,535.32 471.07,534.92 471.78,535.36 472.50,534.28 473.22,535.41 473.94,535.21 474.66,534.77 475.37,534.35 476.09,534.64 476.81,535.29 477.53,534.67 478.25,534.49 478.96,534.23 479.68,534.60 480.40,535.08 481.12,534.33 481.84,534.48 482.55,534.22 483.27,535.09 483.99,534.27 484.71,534.71 485.43,535.03 486.14,534.98 486.86,535.16 487.58,534.13 488.30,535.08 489.02,534.44 489.73,534.92 490.45,534.91 491.17,534.76 491.89,534.12 492.61,535.10 493.32,534.67 494.04,534.74 494.76,534.53 495.48,534.34 496.20,534.02" fill="none" stroke="#1f77b4" stroke-width="1.1" stroke-linejoin="round" stroke-opacity="1.0"/>
<polyline points="300.90,594.44 301.62,582.30 302.34,570.65 303.05,565.48 303.77,561.12 304.49,555.54 305.21,553.17 305.93,549.50 306.64,547.37 307.36,545.07 308.08,544.33 308.80,545.27 309.52,544.68 310.23,543.55 310.95,543.13 311.67,542.30 312.39,542.84 313.11,542.75 313.82,542.57 314.54,542.34 315.26,542.49 315.98,541.43 316.70,541.27 317.41,541.04 318.13,540.28 318.85,541.42 319.57,541.22 320.29,540.85 321.00,539.75 321.72,540.91 322.44,540.81 323.16,540.41 323.88,539.75 324.59,540.45 325.31,540.53 326.03,539.36 326.75,539.63 327.47,539.58 328.18,540.67 328.90,540.15 329.62,540.40 330.34,539.83 331.06,543.26 331.77,538.48 332.49,538.72 333.21,539.64 333.93,539.20 334.65,538.48 335.36,539.55 336.08,540.72 336.80,538.71 337.52,539.42 338.24,539.12 338.95,539.31 339.67,538.34 340.39,538.92 341.11,539.73 341.83,539.85 342.54,538.55 343.26,539.57 343.98,538.42 344.70,539.28 345.42,538.63 346.13,538.97 346.85,538.30 347.57,539.31 348.29,538.72 349.01,538.18 349.72,538.94 350.44,537.43 351.16,537.40 351.88,537.40 352.60,537.44 353.31,537.38 354.03,538.09 354.75,537.51 355.47,538.34 356.19,538.99 356.90,537.22 357.62,537.20 358.34,538.49 359.06,538.21 359.78,538.46 360.49,537.46 361.21,538.52 361.93,537.18 362.65,538.70 363.37,537.94 364.08,537.16 364.80,537.73 365.52,538.40 366.24,538.59 366.96,538.92 367.67,540.13 368.39,538.01 369.11,538.01 369.83,537.90 370.55,538.43 371.26,536.88 371.98,540.06 372.70,537.19 373.42,538.20 374.14,537.40 374.85,538.21 375.57,537.29 376.29,537.79 377.01,536.39 377.73,537.55 378.44,537.17 379.16,537.87 379.88,536.44 380.60,536.77 381.32,537.05 382.03,537.10 382.75,537.38 383.47,537.12 384.19,536.99 384.91,537.95 385.62,536.53 386.34,536.43 387.06,537.86 387.78,538.79 388.50,536.43 389.21,537.14 389.93,537.53 390.65,536.39 391.37,535.79 392.09,537.03 392.80,536.52 393.52,536.58 394.24,536.54 394.96,536.44 395.68,535.77 396.39,535.85 397.11,535.78 397.83,536.15 398.55,535.98 399.27,535.96 399.98,535.97 400.70,536.84 401.42,535.88 402.14,538.99 402.86,537.03 403.57,536.05 404.29,536.49 405.01,536.86 405.73,536.01 406.45,536.88 407.16,535.75 407.88,536.62 408.60,535.40 409.32,536.59 410.04,535.27 410.75,536.53 411.47,535.60 412.19,536.88 412.91,536.13 413.63,536.41 414.34,535.37 415.06,537.27 415.78,535.93 416.50,536.83 417.22,536.94 417.93,536.54 418.65,536.80 419.37,535.58 420.09,535.88 420.81,534.95 421.52,535.24 422.24,536.83 422.96,535.01 423.68,535.82 424.40,534.88 425.11,536.24 425.83,535.90 426.55,535.43 427.27,536.29 427.99,535.97 428.70,536.10 429.42,536.07 430.14,535.65 430.86,535.71 431.58,534.93 432.29,536.19 433.01,536.19 433.73,536.07 434.45,536.63 435.17,535.96 435.88,535.90 436.60,536.40 437.32,537.77 438.04,536.38 438.76,534.94 439.47,534.63 440.19,535.28 440.91,536.08 441.63,536.16 442.35,536.33 443.06,536.07 443.78,534.71 444.50,534.86 445.22,534.66 445.94,535.64 446.65,535.25 447.37,534.92 448.09,535.01 448.81,535.03 449.53,536.25 450.24,534.30 450.96,535.13 451.68,535.71 452.40,535.61 453.12,534.72 453.83,534.38 454.55,536.15 455.27,535.78 455.99,536.10 456.71,534.89 457.42,534.96 458.14,534.92 458.86,535.77 459.58,535.30 460.30,534.35 461.01,535.46 461.73,535.69 462.45,535.66 463.17,534.46 463.89,535.58 464.60,534.63 465.32,534.80 466.04,534.37 466.76,535.89 467.48,535.39 468.19,534.06 468.91,534.97 469.63,535.79 470.35,535.72 471.07,535.56 471.78,534.59 472.50,535.26 473.22,535.70 473.94,535.35 474.66,534.26 475.37,534.41 476.09,534.88 476.81,535.30 477.53,535.62 478.25,535.58 478.96,534.02 479.68,534.55 480.40,535.75 481.12,534.18 481.84,533.84 482.55,534.93 483.27,533.92 483.99,535.04 484.71,535.00 485.43,534.86 486.14,534.64 486.86,534.89 487.58,535.17 488.30,535.46 489.02,535.02 489.73,534.46 490.45,533.85 491.17,534.17 491.89,536.16 492.61,534.73 493.32,535.22 494.04,534.13 494.76,533.91 495.48,534.79 496.20,533.98" fill="none" stroke="#ff7f0e" stroke-width="1.1" stroke-linejoin="round" stroke-opacity="1.0"/>
<rect x="291.30" y="529.00" width="214.70" height="119.00" fill="none" stroke="#6e6e6e" stroke-width="1.0"/>
<rect x="384.50" y="578.80" width="116.80" height="19.20" rx="1.2" fill="#fff" fill-opacity="0.85" stroke="#d6d6d6" stroke-width="0.8"/>
<line x1="386.30" y1="583.80" x2="401.30" y2="583.80" stroke="#1f77b4" stroke-width="1.1"/>
<text x="407.00" y="586.04" font-size="6.8" textLength="85.50" lengthAdjust="spacingAndGlyphs" fill="#222">Training Dice Coefficient</text>
<line x1="386.30" y1="592.50" x2="401.30" y2="592.50" stroke="#ff7f0e" stroke-width="1.1"/>
<text x="407.00" y="594.74" font-size="6.8" textLength="92.30" lengthAdjust="spacingAndGlyphs" fill="#222">Validation Dice Coefficient</text>
</svg>
</body></html>
